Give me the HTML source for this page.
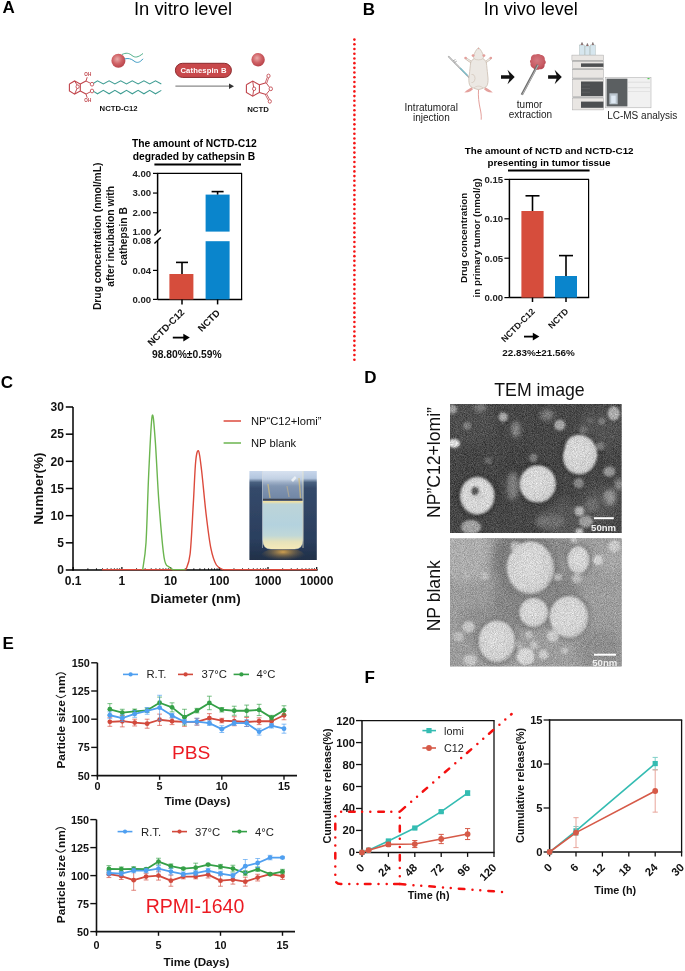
<!DOCTYPE html>
<html><head><meta charset="utf-8"><style>
html,body{margin:0;padding:0;background:#fff;}
svg{display:block;font-family:"Liberation Sans", sans-serif;will-change:transform;}
</style></head><body>
<svg width="685" height="971" viewBox="0 0 685 971">
<rect width="685" height="971" fill="#fff"/>
<defs>
<radialGradient id="sph" cx="0.42" cy="0.38" r="0.62">
<stop offset="0" stop-color="#e9aaa9"/><stop offset="0.55" stop-color="#d06266"/><stop offset="1" stop-color="#b8434a"/>
</radialGradient>
<radialGradient id="tum" cx="0.45" cy="0.4" r="0.6">
<stop offset="0" stop-color="#d47880"/><stop offset="0.7" stop-color="#c85c64"/><stop offset="1" stop-color="#b84852"/>
</radialGradient>
<marker id="ahg" viewBox="0 0 10 10" refX="9" refY="5" markerWidth="5" markerHeight="5" orient="auto"><path d="M0,1 L10,5 L0,9 z" fill="#555"/></marker>
</defs>
<text x="2.5" y="13.4" font-size="17" font-weight="bold" text-anchor="start" fill="#000">A</text>
<text x="183" y="15.3" font-size="18.4" font-weight="normal" text-anchor="middle" fill="#000">In vitro level</text>
<circle cx="118.4" cy="60.8" r="7" fill="url(#sph)"/>
<path d="M122,54.5 C126,52.5 129,53 132,55.5 C135,58 138,57.5 143,53.5" stroke="#4fae8a" stroke-width="1" fill="none"/>
<path d="M124.5,59 C128,58 131,58.5 134,61 C137,63.5 140,62.5 143,58.8" stroke="#3e9bc4" stroke-width="1" fill="none"/>
<path d="M69.4,84 L69.4,91 L74.6,94.1 L80.3,91 L80.3,84 L74.6,81 L69.4,84" stroke="#c0444b" stroke-width="1.1" fill="none"/>
<path d="M74.6,81 L77.2,85.2" stroke="#c0444b" stroke-width="0.95" fill="none"/>
<path d="M77.2,88.2 L74.6,94.1" stroke="#c0444b" stroke-width="0.95" fill="none"/>
<ellipse cx="77.6" cy="86.7" rx="1.6" ry="1.8" stroke="#c0444b" stroke-width="0.85" fill="none"/>
<path d="M80.3,84 L86,81" stroke="#c0444b" stroke-width="1.1" fill="none"/>
<path d="M80.3,91 L86,94.1" stroke="#c0444b" stroke-width="1.1" fill="none"/>
<path d="M86,81 L87.2,77.2" stroke="#c0444b" stroke-width="0.95" fill="none"/>
<path d="M86,94.1 L87.2,97.8" stroke="#c0444b" stroke-width="0.95" fill="none"/>
<path d="M86,81 L90.3,83.2" stroke="#c0444b" stroke-width="0.95" fill="none"/>
<path d="M86,94.1 L90.3,91.9" stroke="#c0444b" stroke-width="0.95" fill="none"/>
<text x="87.8" y="76.4" font-size="4.6" font-weight="bold" text-anchor="middle" fill="#c0444b">OH</text>
<text x="87.8" y="102.3" font-size="4.6" font-weight="bold" text-anchor="middle" fill="#c0444b">OH</text>
<ellipse cx="92" cy="84.2" rx="1.7" ry="1.9" stroke="#c0444b" stroke-width="0.85" fill="none"/>
<ellipse cx="92" cy="91" rx="1.7" ry="1.9" stroke="#c0444b" stroke-width="0.85" fill="none"/>
<path d="M93.6,83.2 L97.5,80.9 L103.3,84 L109.1,80.9 L114.9,84 L120.7,80.9 L126.5,84 L132.3,80.9 L138.1,84 L143.9,80.9 L149.7,84 L155.5,80.9 L161.3,84" stroke="#3f9d93" stroke-width="1.05" fill="none"/>
<path d="M93.6,91.4 L97.5,93.8 L103.3,90.4 L109.1,93.8 L114.9,90.4 L120.7,93.8 L126.5,90.4 L132.3,93.8 L138.1,90.4 L143.9,93.8 L149.7,90.4 L155.5,93.8 L161.3,90.4" stroke="#3f9d93" stroke-width="1.05" fill="none"/>
<text x="118.6" y="110.6" font-size="7.7" font-weight="bold" text-anchor="middle" fill="#111">NCTD-C12</text>
<rect x="175.4" y="63.3" width="56" height="14.1" rx="7.05" fill="#c8484b" stroke="#8a2a2d" stroke-width="1"/>
<text x="203.5" y="73.1" font-size="7.7" font-weight="bold" text-anchor="middle" fill="#fff" letter-spacing="0.12">Cathespin B</text>
<line x1="175.4" y1="86.2" x2="230" y2="86.2" stroke="#8a8a8a" stroke-width="1.3"/>
<path d="M229,83.4 L234,86.2 L229,89 z" fill="#333"/>
<circle cx="258.1" cy="59.7" r="6.7" fill="url(#sph)"/>
<path d="M246.4,84.8 L246.4,92.5 L252.7,96.2 L259.4,92.5 L259.4,84.8 L252.7,81.1 L246.4,84.8" stroke="#c0444b" stroke-width="1.1" fill="none"/>
<path d="M252.7,81.1 L253.6,87.2" stroke="#c0444b" stroke-width="0.95" fill="none"/>
<path d="M253.6,90.4 L252.7,96.2" stroke="#c0444b" stroke-width="0.95" fill="none"/>
<ellipse cx="254.1" cy="88.8" rx="1.6" ry="1.8" stroke="#c0444b" stroke-width="0.85" fill="none"/>
<path d="M259.4,84.8 L266.1,82.8" stroke="#c0444b" stroke-width="1.1" fill="none"/>
<path d="M259.4,92.5 L266.1,94.5" stroke="#c0444b" stroke-width="1.1" fill="none"/>
<path d="M266.1,82.8 L269.5,87.3" stroke="#c0444b" stroke-width="0.95" fill="none"/>
<path d="M266.1,94.5 L269.5,90.3" stroke="#c0444b" stroke-width="0.95" fill="none"/>
<ellipse cx="270.8" cy="88.8" rx="1.7" ry="1.9" stroke="#c0444b" stroke-width="0.85" fill="none"/>
<path d="M266.81,83.05 L268.58,77.94" stroke="#c0444b" stroke-width="0.8" fill="none"/><path d="M265.39,82.55 L267.17,77.45" stroke="#c0444b" stroke-width="0.8" fill="none"/>
<ellipse cx="268.5" cy="75.9" rx="1.6" ry="1.8" stroke="#c0444b" stroke-width="0.85" fill="none"/>
<path d="M265.44,94.85 L268.24,100.08" stroke="#c0444b" stroke-width="0.8" fill="none"/><path d="M266.76,94.15 L269.56,99.37" stroke="#c0444b" stroke-width="0.8" fill="none"/>
<ellipse cx="269.8" cy="101.4" rx="1.6" ry="1.8" stroke="#c0444b" stroke-width="0.85" fill="none"/>
<text x="258" y="111.6" font-size="7.8" font-weight="bold" text-anchor="middle" fill="#111">NCTD</text>
<text x="194.3" y="147" font-size="10.3" font-weight="bold" text-anchor="middle" fill="#000">The amount of NCTD-C12</text>
<text x="193.9" y="159.6" font-size="10.3" font-weight="bold" text-anchor="middle" fill="#000">degraded by cathepsin B</text>
<line x1="154.4" y1="164.4" x2="241" y2="164.4" stroke="#000" stroke-width="2"/>
<line x1="157.1" y1="173.4" x2="242.1" y2="173.4" stroke="#000" stroke-width="1.2"/>
<line x1="241.6" y1="173.4" x2="241.6" y2="299.4" stroke="#000" stroke-width="1.2"/>
<line x1="157.6" y1="299.4" x2="242.2" y2="299.4" stroke="#000" stroke-width="1.5"/>
<line x1="157.6" y1="173.4" x2="157.6" y2="232.4" stroke="#000" stroke-width="1.5"/>
<line x1="157.6" y1="240.6" x2="157.6" y2="299.4" stroke="#000" stroke-width="1.5"/>
<line x1="154.4" y1="235.4" x2="160.8" y2="229.5" stroke="#000" stroke-width="1.4"/>
<line x1="154.4" y1="243.5" x2="160.8" y2="237.6" stroke="#000" stroke-width="1.4"/>
<line x1="153" y1="173.39" x2="157.6" y2="173.39" stroke="#000" stroke-width="1.2"/>
<text x="151.2" y="176.79" font-size="9.6" font-weight="bold" text-anchor="end" fill="#222">4.00</text>
<line x1="153" y1="193.06" x2="157.6" y2="193.06" stroke="#000" stroke-width="1.2"/>
<text x="151.2" y="196.46" font-size="9.6" font-weight="bold" text-anchor="end" fill="#222">3.00</text>
<line x1="153" y1="212.73" x2="157.6" y2="212.73" stroke="#000" stroke-width="1.2"/>
<text x="151.2" y="216.13" font-size="9.6" font-weight="bold" text-anchor="end" fill="#222">2.00</text>
<text x="151.2" y="234.6" font-size="9.6" font-weight="bold" text-anchor="end" fill="#222">1.00</text>
<text x="151.2" y="244.2" font-size="9.6" font-weight="bold" text-anchor="end" fill="#222">0.08</text>
<line x1="153" y1="270.4" x2="157.6" y2="270.4" stroke="#000" stroke-width="1.2"/>
<text x="151.2" y="273.8" font-size="9.6" font-weight="bold" text-anchor="end" fill="#222">0.04</text>
<line x1="153" y1="299.4" x2="157.6" y2="299.4" stroke="#000" stroke-width="1.2"/>
<text x="151.2" y="302.8" font-size="9.6" font-weight="bold" text-anchor="end" fill="#222">0.00</text>
<rect x="169.4" y="274" width="24" height="25.4" fill="#d64d3c"/>
<line x1="182" y1="262.4" x2="182" y2="274" stroke="#000" stroke-width="1.6"/>
<line x1="176" y1="262.4" x2="188" y2="262.4" stroke="#000" stroke-width="1.6"/>
<rect x="205.6" y="194.6" width="24" height="37" fill="#0a85cc"/>
<rect x="205.6" y="241.2" width="24" height="58.2" fill="#0a85cc"/>
<line x1="217.6" y1="191.6" x2="217.6" y2="194.6" stroke="#000" stroke-width="1.6"/>
<line x1="211.6" y1="191.6" x2="223.6" y2="191.6" stroke="#000" stroke-width="1.6"/>
<line x1="182" y1="299.4" x2="182" y2="304.4" stroke="#000" stroke-width="1.5"/>
<line x1="217.6" y1="299.4" x2="217.6" y2="304.4" stroke="#000" stroke-width="1.5"/>
<text x="185" y="313" font-size="9.6" font-weight="bold" text-anchor="end" fill="#111" transform="rotate(-45 185 313)">NCTD-C12</text>
<text x="220.6" y="313.5" font-size="9.6" font-weight="bold" text-anchor="end" fill="#111" transform="rotate(-45 220.6 313.5)">NCTD</text>
<path d="M172.8,337.6 L184.3,337.6" stroke="#000" stroke-width="1.8" fill="none"/>
<path d="M183.3,333.8 L189.8,337.6 L183.3,341.4 z" fill="#000"/>
<text x="186.8" y="358" font-size="10.3" font-weight="bold" text-anchor="middle" fill="#111">98.80%±0.59%</text>
<text x="101.4" y="236.3" font-size="10.3" font-weight="bold" text-anchor="middle" fill="#111" transform="rotate(-90 101.4 236.3)">Drug concentration (nmol/mL)</text>
<text x="114.2" y="236.3" font-size="10.3" font-weight="bold" text-anchor="middle" fill="#111" transform="rotate(-90 114.2 236.3)">after incubation with</text>
<text x="127" y="236.3" font-size="10.3" font-weight="bold" text-anchor="middle" fill="#111" transform="rotate(-90 127 236.3)">cathepsin B</text>
<text x="362.8" y="15.4" font-size="17" font-weight="bold" text-anchor="start" fill="#000">B</text>
<text x="530.7" y="15" font-size="18" font-weight="normal" text-anchor="middle" fill="#000">In vivo level</text>
<circle cx="354.4" cy="39.6" r="1.3" fill="#f51414"/><circle cx="354.4" cy="44.31" r="1.3" fill="#f51414"/><circle cx="354.4" cy="49.01" r="1.3" fill="#f51414"/><circle cx="354.4" cy="53.72" r="1.3" fill="#f51414"/><circle cx="354.4" cy="58.43" r="1.3" fill="#f51414"/><circle cx="354.4" cy="63.14" r="1.3" fill="#f51414"/><circle cx="354.4" cy="67.84" r="1.3" fill="#f51414"/><circle cx="354.4" cy="72.55" r="1.3" fill="#f51414"/><circle cx="354.4" cy="77.26" r="1.3" fill="#f51414"/><circle cx="354.4" cy="81.97" r="1.3" fill="#f51414"/><circle cx="354.4" cy="86.67" r="1.3" fill="#f51414"/><circle cx="354.4" cy="91.38" r="1.3" fill="#f51414"/><circle cx="354.4" cy="96.09" r="1.3" fill="#f51414"/><circle cx="354.4" cy="100.8" r="1.3" fill="#f51414"/><circle cx="354.4" cy="105.5" r="1.3" fill="#f51414"/><circle cx="354.4" cy="110.21" r="1.3" fill="#f51414"/><circle cx="354.4" cy="114.92" r="1.3" fill="#f51414"/><circle cx="354.4" cy="119.62" r="1.3" fill="#f51414"/><circle cx="354.4" cy="124.33" r="1.3" fill="#f51414"/><circle cx="354.4" cy="129.04" r="1.3" fill="#f51414"/><circle cx="354.4" cy="133.75" r="1.3" fill="#f51414"/><circle cx="354.4" cy="138.45" r="1.3" fill="#f51414"/><circle cx="354.4" cy="143.16" r="1.3" fill="#f51414"/><circle cx="354.4" cy="147.87" r="1.3" fill="#f51414"/><circle cx="354.4" cy="152.58" r="1.3" fill="#f51414"/><circle cx="354.4" cy="157.28" r="1.3" fill="#f51414"/><circle cx="354.4" cy="161.99" r="1.3" fill="#f51414"/><circle cx="354.4" cy="166.7" r="1.3" fill="#f51414"/><circle cx="354.4" cy="171.41" r="1.3" fill="#f51414"/><circle cx="354.4" cy="176.11" r="1.3" fill="#f51414"/><circle cx="354.4" cy="180.82" r="1.3" fill="#f51414"/><circle cx="354.4" cy="185.53" r="1.3" fill="#f51414"/><circle cx="354.4" cy="190.24" r="1.3" fill="#f51414"/><circle cx="354.4" cy="194.94" r="1.3" fill="#f51414"/><circle cx="354.4" cy="199.65" r="1.3" fill="#f51414"/><circle cx="354.4" cy="204.36" r="1.3" fill="#f51414"/><circle cx="354.4" cy="209.06" r="1.3" fill="#f51414"/><circle cx="354.4" cy="213.77" r="1.3" fill="#f51414"/><circle cx="354.4" cy="218.48" r="1.3" fill="#f51414"/><circle cx="354.4" cy="223.19" r="1.3" fill="#f51414"/><circle cx="354.4" cy="227.89" r="1.3" fill="#f51414"/><circle cx="354.4" cy="232.6" r="1.3" fill="#f51414"/><circle cx="354.4" cy="237.31" r="1.3" fill="#f51414"/><circle cx="354.4" cy="242.02" r="1.3" fill="#f51414"/><circle cx="354.4" cy="246.72" r="1.3" fill="#f51414"/><circle cx="354.4" cy="251.43" r="1.3" fill="#f51414"/><circle cx="354.4" cy="256.14" r="1.3" fill="#f51414"/><circle cx="354.4" cy="260.85" r="1.3" fill="#f51414"/><circle cx="354.4" cy="265.55" r="1.3" fill="#f51414"/><circle cx="354.4" cy="270.26" r="1.3" fill="#f51414"/><circle cx="354.4" cy="274.97" r="1.3" fill="#f51414"/><circle cx="354.4" cy="279.68" r="1.3" fill="#f51414"/><circle cx="354.4" cy="284.38" r="1.3" fill="#f51414"/><circle cx="354.4" cy="289.09" r="1.3" fill="#f51414"/><circle cx="354.4" cy="293.8" r="1.3" fill="#f51414"/><circle cx="354.4" cy="298.5" r="1.3" fill="#f51414"/><circle cx="354.4" cy="303.21" r="1.3" fill="#f51414"/><circle cx="354.4" cy="307.92" r="1.3" fill="#f51414"/><circle cx="354.4" cy="312.63" r="1.3" fill="#f51414"/><circle cx="354.4" cy="317.33" r="1.3" fill="#f51414"/><circle cx="354.4" cy="322.04" r="1.3" fill="#f51414"/><circle cx="354.4" cy="326.75" r="1.3" fill="#f51414"/><circle cx="354.4" cy="331.46" r="1.3" fill="#f51414"/><circle cx="354.4" cy="336.16" r="1.3" fill="#f51414"/><circle cx="354.4" cy="340.87" r="1.3" fill="#f51414"/><circle cx="354.4" cy="345.58" r="1.3" fill="#f51414"/><circle cx="354.4" cy="350.29" r="1.3" fill="#f51414"/><circle cx="354.4" cy="354.99" r="1.3" fill="#f51414"/><circle cx="354.4" cy="359.7" r="1.3" fill="#f51414"/>
<line x1="448.3" y1="56.2" x2="470.2" y2="78.5" stroke="#9a9a9a" stroke-width="1.5"/>
<line x1="448.6" y1="56.5" x2="469.8" y2="78.1" stroke="#e2e2e2" stroke-width="0.6"/>
<line x1="460.1" y1="68" x2="467.6" y2="75.6" stroke="#79bfcc" stroke-width="1.3"/>
<line x1="453" y1="61" x2="455.5" y2="59.5" stroke="#999" stroke-width="0.8"/>
<line x1="454.3" y1="62.6" x2="456.8" y2="61.1" stroke="#999" stroke-width="0.8"/>
<path d="M478.5,89.5 C478,97 479,103 480,108 C481,112 481.5,116 481.2,119.7" stroke="#e4a09c" stroke-width="1" fill="none"/>
<path d="M471.5,87.2 L466.5,90.6 L464.3,92.6 L468,92.2 L470.5,91.2 L473,89.2 z" fill="#e4a09c"/>
<path d="M485.5,87.2 L490.5,90.6 L492.8,92.6 L489,92.2 L486.5,91.2 L484,89.2 z" fill="#e4a09c"/>
<path d="M471.8,62.5 L466.5,58.8" stroke="#c4b4a6" stroke-width="2.2" stroke-linecap="round"/><path d="M471.8,62.5 L466.5,58.8" stroke="#ece8e3" stroke-width="1.2" stroke-linecap="round"/>
<path d="M485.2,62.5 L490,58.8" stroke="#c4b4a6" stroke-width="2.2" stroke-linecap="round"/><path d="M485.2,62.5 L490,58.8" stroke="#ece8e3" stroke-width="1.2" stroke-linecap="round"/>
<circle cx="465.6" cy="58" r="1.35" fill="#e4a09c"/><circle cx="490.8" cy="58" r="1.35" fill="#e4a09c"/>
<path d="M478.5,47.7 C480,48.8 481.2,50.5 482.6,53.5 C483.6,55.5 483.8,57.2 482.9,58.8 C484.5,59.6 486,60.6 486.4,63 C486.8,66 487.2,70 487.7,75 C488.3,79 488.2,82 487.5,84.2 C487,86.5 485.5,87.6 483.5,88 C481.8,88.6 480,89.5 478.5,89.6 C477,89.5 475.2,88.6 473.5,88 C471.5,87.6 470,86.5 469.4,84.2 C468.7,82 468.6,79 469.3,75 C469.8,70 470.2,66 470.6,63 C471,60.6 472.5,59.6 474.1,58.8 C473.2,57.2 473.4,55.5 474.4,53.5 C475.8,50.5 477,48.8 478.5,47.7 z" fill="#ece8e3" stroke="#c4b4a6" stroke-width="0.7"/>
<circle cx="473.1" cy="55.6" r="1.45" fill="#e4a09c"/><circle cx="483.9" cy="55.6" r="1.45" fill="#e4a09c"/>
<circle cx="478.5" cy="48.6" r="0.6" fill="#e4a09c"/>
<path d="M474.3,58.9 C476.5,60.2 480.5,60.2 482.7,58.9" stroke="#c4b4a6" stroke-width="0.5" fill="none"/>
<path d="M471.5,74.5 C473.5,74 475,75.5 475,78.5 C474.8,81.5 473,83 471.5,82.5" stroke="#c4b4a6" stroke-width="0.5" fill="none"/>
<path d="M474,88 C476,85.5 481,85.5 483,88" stroke="#c4b4a6" stroke-width="0.4" fill="none"/>
<text x="431.2" y="111" font-size="10" font-weight="normal" text-anchor="middle" fill="#222">Intratumoral</text>
<text x="431.4" y="120.8" font-size="10" font-weight="normal" text-anchor="middle" fill="#222">injection</text>
<path d="M501,75.35 L509.5,75.35 L507.5,69.8 L514.7,77 L507.5,84.2 L509.5,78.65 L501,78.65 z" fill="#111"/>
<path d="M548.1,75.35 L556.6,75.35 L554.6,69.8 L561.8,77 L554.6,84.2 L556.6,78.65 L548.1,78.65 z" fill="#111"/>
<path d="M531,59.5 C530.5,56 533,54.3 535.5,54.6 C537,53.8 539.5,53.8 541,55 C543.5,55 545.2,57.5 544.8,60 C546.3,61.5 546,63.5 544.6,64.5 C545,67.5 542.5,69.8 539.5,69.3 C537.5,70.3 534.5,69.8 533.3,68.2 C531,67.5 530,65 530.6,63 C529.6,62 529.8,60.5 531,59.5 z" fill="url(#tum)"/>
<line x1="537.8" y1="64.8" x2="521.8" y2="94.8" stroke="#6e6e6e" stroke-width="2.4"/>
<line x1="538.2" y1="65" x2="522.4" y2="94.6" stroke="#c8c8c8" stroke-width="0.8"/>
<text x="529.6" y="108" font-size="10" font-weight="normal" text-anchor="middle" fill="#222">tumor</text>
<text x="530.5" y="118" font-size="10" font-weight="normal" text-anchor="middle" fill="#222">extraction</text>
<rect x="579.6" y="45" width="4.8" height="10.2" fill="#d6e6ee" stroke="#9aa" stroke-width="0.4"/>
<rect x="585" y="46" width="4.8" height="9.2" fill="#d6e6ee" stroke="#9aa" stroke-width="0.4"/>
<rect x="590.4" y="45" width="4.8" height="10.2" fill="#d6e6ee" stroke="#9aa" stroke-width="0.4"/>
<path d="M581,45 L582,42.5 L583,45 M586.5,46 L587.4,43.5 L588.3,46 M592,45 L592.8,42.5 L593.7,45" stroke="#777" stroke-width="0.8" fill="#b55"/>
<rect x="571.9" y="55.1" width="31.7" height="5.6" fill="#e9e6e3" stroke="#a9a9a9" stroke-width="0.5"/>
<rect x="572.6" y="61.4" width="31" height="6.9" fill="#e9e6e3" stroke="#a9a9a9" stroke-width="0.5"/>
<rect x="581" y="63.4" width="22.4" height="3.5" fill="#4d4f51"/>
<rect x="572.6" y="69.7" width="31" height="8.3" fill="#e9e6e3" stroke="#a9a9a9" stroke-width="0.5"/>
<rect x="572.6" y="79.4" width="31" height="17.3" fill="#e9e6e3" stroke="#a9a9a9" stroke-width="0.5"/>
<rect x="581" y="81.5" width="22" height="14.5" fill="#4d4f51"/>
<line x1="581.5" y1="85" x2="590" y2="85" stroke="#777" stroke-width="0.4"/>
<line x1="581.5" y1="88.6" x2="590" y2="88.6" stroke="#777" stroke-width="0.4"/>
<line x1="581.5" y1="92.2" x2="590" y2="92.2" stroke="#777" stroke-width="0.4"/>
<rect x="572.6" y="98.1" width="31" height="11.8" fill="#e9e6e3" stroke="#a9a9a9" stroke-width="0.5"/>
<rect x="581" y="101.6" width="22.4" height="6.2" fill="#4d4f51"/>
<line x1="572.5" y1="60.9" x2="603.5" y2="60.9" stroke="#888" stroke-width="0.6"/>
<line x1="572.5" y1="69.1" x2="603.5" y2="69.1" stroke="#888" stroke-width="0.6"/>
<line x1="572.5" y1="78.7" x2="603.5" y2="78.7" stroke="#888" stroke-width="0.6"/>
<line x1="572.5" y1="97.4" x2="603.5" y2="97.4" stroke="#888" stroke-width="0.6"/>
<rect x="605.2" y="77.3" width="45.8" height="30.5" fill="#f1f1f1" stroke="#a9a9a9" stroke-width="0.5"/>
<rect x="606.6" y="78.7" width="20.8" height="27.7" fill="#5b5f61"/>
<rect x="609.4" y="93.3" width="8.3" height="11" fill="#b9c4cc"/>
<rect x="611.2" y="95.6" width="4.5" height="7.5" fill="#dfe9f3"/>
<line x1="628" y1="82.2" x2="650" y2="82.2" stroke="#c8c8c8" stroke-width="0.5"/>
<line x1="628" y1="87.7" x2="650" y2="87.7" stroke="#c8c8c8" stroke-width="0.5"/>
<line x1="628" y1="91.5" x2="650" y2="91.5" stroke="#d0d0d0" stroke-width="0.4"/>
<rect x="647.5" y="78" width="2" height="1.2" fill="#5c5"/>
<text x="642.2" y="118.8" font-size="10" font-weight="normal" text-anchor="middle" fill="#222">LC-MS analysis</text>
<text x="549.2" y="154" font-size="9.8" font-weight="bold" text-anchor="middle" fill="#000">The amount of NCTD and NCTD-C12</text>
<text x="549" y="166" font-size="9.8" font-weight="bold" text-anchor="middle" fill="#000">presenting in tumor tissue</text>
<line x1="508" y1="170.4" x2="589.6" y2="170.4" stroke="#000" stroke-width="2"/>
<line x1="508.9" y1="179.4" x2="589.1" y2="179.4" stroke="#000" stroke-width="1.2"/>
<line x1="588.6" y1="179.4" x2="588.6" y2="297.6" stroke="#000" stroke-width="1.2"/>
<line x1="509.4" y1="297.6" x2="589.2" y2="297.6" stroke="#000" stroke-width="1.5"/>
<line x1="509.4" y1="179.4" x2="509.4" y2="297.6" stroke="#000" stroke-width="1.5"/>
<line x1="504.4" y1="179.4" x2="509.4" y2="179.4" stroke="#000" stroke-width="1.2"/>
<text x="503.2" y="182.8" font-size="9.6" font-weight="bold" text-anchor="end" fill="#222">0.15</text>
<line x1="504.4" y1="218.8" x2="509.4" y2="218.8" stroke="#000" stroke-width="1.2"/>
<text x="503.2" y="222.2" font-size="9.6" font-weight="bold" text-anchor="end" fill="#222">0.10</text>
<line x1="504.4" y1="258.2" x2="509.4" y2="258.2" stroke="#000" stroke-width="1.2"/>
<text x="503.2" y="261.6" font-size="9.6" font-weight="bold" text-anchor="end" fill="#222">0.05</text>
<line x1="504.4" y1="297.6" x2="509.4" y2="297.6" stroke="#000" stroke-width="1.2"/>
<text x="503.2" y="301" font-size="9.6" font-weight="bold" text-anchor="end" fill="#222">0.00</text>
<rect x="521.4" y="211" width="22.2" height="86.6" fill="#d64d3c"/>
<line x1="532.5" y1="195.8" x2="532.5" y2="211" stroke="#000" stroke-width="1.6"/>
<line x1="525.5" y1="195.8" x2="539.5" y2="195.8" stroke="#000" stroke-width="1.6"/>
<rect x="555" y="276" width="22" height="21.6" fill="#0a85cc"/>
<line x1="566" y1="255.6" x2="566" y2="276" stroke="#000" stroke-width="1.6"/>
<line x1="559" y1="255.6" x2="573" y2="255.6" stroke="#000" stroke-width="1.6"/>
<line x1="532.5" y1="297.6" x2="532.5" y2="302" stroke="#000" stroke-width="1.5"/>
<line x1="566" y1="297.6" x2="566" y2="302" stroke="#000" stroke-width="1.5"/>
<text x="535.5" y="312" font-size="8.8" font-weight="bold" text-anchor="end" fill="#111" transform="rotate(-45 535.5 312)">NCTD-C12</text>
<text x="569" y="312" font-size="8.8" font-weight="bold" text-anchor="end" fill="#111" transform="rotate(-45 569 312)">NCTD</text>
<path d="M524,336.6 L533.5,336.6" stroke="#000" stroke-width="1.8" fill="none"/>
<path d="M532.8,332.8 L539.4,336.6 L532.8,340.4 z" fill="#000"/>
<text x="538.5" y="356" font-size="9.9" font-weight="bold" text-anchor="middle" fill="#111">22.83%±21.56%</text>
<text x="467.3" y="237.9" font-size="9.8" font-weight="bold" text-anchor="middle" fill="#111" transform="rotate(-90 467.3 237.9)">Drug concentration</text>
<text x="479.8" y="237.9" font-size="9.8" font-weight="bold" text-anchor="middle" fill="#111" transform="rotate(-90 479.8 237.9)">in primary tumor (nmol/g)</text>
<text x="0.8" y="388" font-size="17" font-weight="bold" text-anchor="start" fill="#000">C</text>
<line x1="73" y1="407" x2="73" y2="570.75" stroke="#000" stroke-width="1.5"/>
<line x1="65.8" y1="570" x2="73" y2="570" stroke="#000" stroke-width="1.5"/>
<text x="63.9" y="574.3" font-size="12" font-weight="bold" text-anchor="end" fill="#111">0</text>
<line x1="65.8" y1="542.83" x2="73" y2="542.83" stroke="#000" stroke-width="1.5"/>
<text x="63.9" y="547.13" font-size="12" font-weight="bold" text-anchor="end" fill="#111">5</text>
<line x1="65.8" y1="515.67" x2="73" y2="515.67" stroke="#000" stroke-width="1.5"/>
<text x="63.9" y="519.97" font-size="12" font-weight="bold" text-anchor="end" fill="#111">10</text>
<line x1="65.8" y1="488.5" x2="73" y2="488.5" stroke="#000" stroke-width="1.5"/>
<text x="63.9" y="492.8" font-size="12" font-weight="bold" text-anchor="end" fill="#111">15</text>
<line x1="65.8" y1="461.33" x2="73" y2="461.33" stroke="#000" stroke-width="1.5"/>
<text x="63.9" y="465.63" font-size="12" font-weight="bold" text-anchor="end" fill="#111">20</text>
<line x1="65.8" y1="434.17" x2="73" y2="434.17" stroke="#000" stroke-width="1.5"/>
<text x="63.9" y="438.47" font-size="12" font-weight="bold" text-anchor="end" fill="#111">25</text>
<line x1="65.8" y1="407" x2="73" y2="407" stroke="#000" stroke-width="1.5"/>
<text x="63.9" y="411.3" font-size="12" font-weight="bold" text-anchor="end" fill="#111">30</text>
<line x1="73" y1="570" x2="317.6" y2="570" stroke="#000" stroke-width="1.5"/>
<line x1="73.2" y1="570" x2="73.2" y2="567" stroke="#000" stroke-width="1.2"/>
<text x="73.2" y="584.6" font-size="12" font-weight="bold" text-anchor="middle" fill="#111">0.1</text>
<line x1="121.9" y1="570" x2="121.9" y2="567" stroke="#000" stroke-width="1.2"/>
<text x="121.9" y="584.6" font-size="12" font-weight="bold" text-anchor="middle" fill="#111">1</text>
<line x1="170.6" y1="570" x2="170.6" y2="567" stroke="#000" stroke-width="1.2"/>
<text x="170.6" y="584.6" font-size="12" font-weight="bold" text-anchor="middle" fill="#111">10</text>
<line x1="219.3" y1="570" x2="219.3" y2="567" stroke="#000" stroke-width="1.2"/>
<text x="219.3" y="584.6" font-size="12" font-weight="bold" text-anchor="middle" fill="#111">100</text>
<line x1="268" y1="570" x2="268" y2="567" stroke="#000" stroke-width="1.2"/>
<text x="268" y="584.6" font-size="12" font-weight="bold" text-anchor="middle" fill="#111">1000</text>
<line x1="316.7" y1="570" x2="316.7" y2="567" stroke="#000" stroke-width="1.2"/>
<text x="316.7" y="584.6" font-size="12" font-weight="bold" text-anchor="middle" fill="#111">10000</text>
<line x1="87.86" y1="570" x2="87.86" y2="568.2" stroke="#000" stroke-width="0.8"/>
<line x1="96.44" y1="570" x2="96.44" y2="568.2" stroke="#000" stroke-width="0.8"/>
<line x1="102.52" y1="570" x2="102.52" y2="568.2" stroke="#000" stroke-width="0.8"/>
<line x1="107.24" y1="570" x2="107.24" y2="568.2" stroke="#000" stroke-width="0.8"/>
<line x1="111.1" y1="570" x2="111.1" y2="568.2" stroke="#000" stroke-width="0.8"/>
<line x1="114.36" y1="570" x2="114.36" y2="568.2" stroke="#000" stroke-width="0.8"/>
<line x1="117.18" y1="570" x2="117.18" y2="568.2" stroke="#000" stroke-width="0.8"/>
<line x1="119.67" y1="570" x2="119.67" y2="568.2" stroke="#000" stroke-width="0.8"/>
<line x1="136.56" y1="570" x2="136.56" y2="568.2" stroke="#000" stroke-width="0.8"/>
<line x1="145.14" y1="570" x2="145.14" y2="568.2" stroke="#000" stroke-width="0.8"/>
<line x1="151.22" y1="570" x2="151.22" y2="568.2" stroke="#000" stroke-width="0.8"/>
<line x1="155.94" y1="570" x2="155.94" y2="568.2" stroke="#000" stroke-width="0.8"/>
<line x1="159.8" y1="570" x2="159.8" y2="568.2" stroke="#000" stroke-width="0.8"/>
<line x1="163.06" y1="570" x2="163.06" y2="568.2" stroke="#000" stroke-width="0.8"/>
<line x1="165.88" y1="570" x2="165.88" y2="568.2" stroke="#000" stroke-width="0.8"/>
<line x1="168.37" y1="570" x2="168.37" y2="568.2" stroke="#000" stroke-width="0.8"/>
<line x1="185.26" y1="570" x2="185.26" y2="568.2" stroke="#000" stroke-width="0.8"/>
<line x1="193.84" y1="570" x2="193.84" y2="568.2" stroke="#000" stroke-width="0.8"/>
<line x1="199.92" y1="570" x2="199.92" y2="568.2" stroke="#000" stroke-width="0.8"/>
<line x1="204.64" y1="570" x2="204.64" y2="568.2" stroke="#000" stroke-width="0.8"/>
<line x1="208.5" y1="570" x2="208.5" y2="568.2" stroke="#000" stroke-width="0.8"/>
<line x1="211.76" y1="570" x2="211.76" y2="568.2" stroke="#000" stroke-width="0.8"/>
<line x1="214.58" y1="570" x2="214.58" y2="568.2" stroke="#000" stroke-width="0.8"/>
<line x1="217.07" y1="570" x2="217.07" y2="568.2" stroke="#000" stroke-width="0.8"/>
<line x1="233.96" y1="570" x2="233.96" y2="568.2" stroke="#000" stroke-width="0.8"/>
<line x1="242.54" y1="570" x2="242.54" y2="568.2" stroke="#000" stroke-width="0.8"/>
<line x1="248.62" y1="570" x2="248.62" y2="568.2" stroke="#000" stroke-width="0.8"/>
<line x1="253.34" y1="570" x2="253.34" y2="568.2" stroke="#000" stroke-width="0.8"/>
<line x1="257.2" y1="570" x2="257.2" y2="568.2" stroke="#000" stroke-width="0.8"/>
<line x1="260.46" y1="570" x2="260.46" y2="568.2" stroke="#000" stroke-width="0.8"/>
<line x1="263.28" y1="570" x2="263.28" y2="568.2" stroke="#000" stroke-width="0.8"/>
<line x1="265.77" y1="570" x2="265.77" y2="568.2" stroke="#000" stroke-width="0.8"/>
<line x1="282.66" y1="570" x2="282.66" y2="568.2" stroke="#000" stroke-width="0.8"/>
<line x1="291.24" y1="570" x2="291.24" y2="568.2" stroke="#000" stroke-width="0.8"/>
<line x1="297.32" y1="570" x2="297.32" y2="568.2" stroke="#000" stroke-width="0.8"/>
<line x1="302.04" y1="570" x2="302.04" y2="568.2" stroke="#000" stroke-width="0.8"/>
<line x1="305.9" y1="570" x2="305.9" y2="568.2" stroke="#000" stroke-width="0.8"/>
<line x1="309.16" y1="570" x2="309.16" y2="568.2" stroke="#000" stroke-width="0.8"/>
<line x1="311.98" y1="570" x2="311.98" y2="568.2" stroke="#000" stroke-width="0.8"/>
<line x1="314.47" y1="570" x2="314.47" y2="568.2" stroke="#000" stroke-width="0.8"/>
<text x="195.6" y="603" font-size="13.4" font-weight="bold" text-anchor="middle" fill="#111">Diameter (nm)</text>
<text x="43" y="488.6" font-size="13.6" font-weight="bold" text-anchor="middle" fill="#111" transform="rotate(-90 43 488.6)">Number(%)</text>
<path d="M102,569.6 L185.8,569.6" stroke="#dc4a3c" stroke-width="1.2" fill="none"/>
<path d="M142.6,570 C143.17,565.47 144.98,558.8 146,542.8 C147.02,526.8 147.68,495.08 148.7,474 C149.72,452.92 151.02,421.98 152.1,416.3 C153.18,410.62 154.07,425.62 155.2,439.9 C156.33,454.18 157.42,482.38 158.9,502 C160.38,521.62 162.4,546.77 164.1,557.6 C165.8,568.43 167.48,564.93 169.1,567 C170.72,569.07 173.02,569.5 173.8,570" stroke="#6bb54f" stroke-width="1.4" fill="none"/>
<path d="M173.8,569.6 L185.8,569.6" stroke="#6bb54f" stroke-width="1.2" fill="none"/>
<path d="M185.8,570 C186.52,567.33 188.85,565.02 190.1,554 C191.35,542.98 192.37,519.37 193.3,503.9 C194.23,488.43 194.82,470.02 195.7,461.2 C196.58,452.38 197.62,449.45 198.6,451 C199.58,452.55 200.33,459.83 201.6,470.5 C202.87,481.17 204.65,502.02 206.2,515 C207.75,527.98 209.2,540.07 210.9,548.4 C212.6,556.73 214.23,561.4 216.4,565 C218.57,568.6 222.65,569.17 223.9,570" stroke="#dc4a3c" stroke-width="1.4" fill="none"/>
<path d="M223.9,569.6 L317,569.6" stroke="#dc4a3c" stroke-width="1.3" fill="none"/>
<line x1="223.6" y1="421" x2="241" y2="421" stroke="#dc4a3c" stroke-width="1.5"/>
<line x1="223.6" y1="443" x2="241" y2="443" stroke="#6bb54f" stroke-width="1.5"/>
<text x="251" y="425.4" font-size="11.2" font-weight="normal" text-anchor="start" fill="#111">NP“C12+lomi”</text>
<text x="251" y="447.4" font-size="11.2" font-weight="normal" text-anchor="start" fill="#111">NP blank</text>
<defs>
<linearGradient id="vbg" x1="0" y1="0" x2="0" y2="1">
<stop offset="0" stop-color="#cad8ec"/><stop offset="0.09" stop-color="#b3c6df"/><stop offset="0.135" stop-color="#49607f"/><stop offset="0.2" stop-color="#34496a"/><stop offset="0.75" stop-color="#2b3f5e"/><stop offset="1" stop-color="#1f2e46"/>
</linearGradient>
<linearGradient id="liq" x1="0" y1="0" x2="0" y2="1">
<stop offset="0" stop-color="#f2e3a6"/><stop offset="0.07" stop-color="#bcd4d8"/><stop offset="0.5" stop-color="#b4d2de"/><stop offset="0.72" stop-color="#c0d8d8"/><stop offset="0.85" stop-color="#e6e2ba"/><stop offset="1" stop-color="#f6eab8"/>
</linearGradient>
<radialGradient id="glow" cx="0.5" cy="0.25" r="0.55"><stop offset="0" stop-color="#d0a050" stop-opacity="1"/><stop offset="1" stop-color="#6a5a40" stop-opacity="0"/></radialGradient>
<linearGradient id="glass" x1="0" y1="0" x2="0" y2="1">
<stop offset="0" stop-color="#dde6f2"/><stop offset="0.12" stop-color="#c4d2e4"/><stop offset="0.2" stop-color="#8ea2be"/><stop offset="0.38" stop-color="#7a90ae"/><stop offset="1" stop-color="#6a80a0"/>
</linearGradient>
<filter id="vb" x="-10%" y="-10%" width="120%" height="120%"><feGaussianBlur stdDeviation="0.6"/></filter>
<clipPath id="vc"><rect x="249.4" y="471" width="67.4" height="89"/></clipPath>
</defs>
<g clip-path="url(#vc)"><g filter="url(#vb)">
<rect x="248" y="470" width="70" height="92" fill="url(#vbg)"/>
<ellipse cx="283" cy="556" rx="22" ry="8" fill="url(#glow)"/>
<path d="M262.3,470 L262.3,540 Q262.3,549.5 271,549.5 L294.5,549.5 Q303.3,549.5 303.3,540 L303.3,470 z" fill="url(#glass)" opacity="0.85"/>
<path d="M262.8,501 L302.8,501 L302.8,540 Q302.8,549 294.5,549 L271,549 Q262.8,549 262.8,540 z" fill="url(#liq)"/>
<line x1="263" y1="499.6" x2="302.6" y2="499.6" stroke="#3c3f48" stroke-width="1.6"/>
<line x1="263" y1="501.6" x2="302.6" y2="501.6" stroke="#efe0a2" stroke-width="1.3"/>
<line x1="268" y1="484" x2="270" y2="498" stroke="#d8c07a" stroke-width="1.4" opacity="0.7"/>
<line x1="299" y1="478" x2="300.5" y2="498" stroke="#d8c07a" stroke-width="1.4" opacity="0.7"/>
<line x1="287" y1="486" x2="289" y2="497" stroke="#c9b58a" stroke-width="1.2" opacity="0.6"/>
<line x1="262.6" y1="471" x2="262.6" y2="548" stroke="#d9dde0" stroke-width="0.8" opacity="0.7"/>
<line x1="303" y1="471" x2="303" y2="548" stroke="#e8e4c8" stroke-width="0.9" opacity="0.8"/>
<path d="M291,480 L295,476 L296.5,478 L293,482 z" fill="#f4f6f8" opacity="0.8"/>
</g></g>
<text x="364.3" y="383.3" font-size="17" font-weight="bold" text-anchor="start" fill="#000">D</text>
<text x="539.5" y="395.7" font-size="17.7" font-weight="normal" text-anchor="middle" fill="#111">TEM image</text>
<text x="439.7" y="462.5" font-size="17.6" font-weight="normal" text-anchor="middle" fill="#111" transform="rotate(-90 439.7 462.5)">NP”C12+lomi”</text>
<text x="439.7" y="595.8" font-size="17.6" font-weight="normal" text-anchor="middle" fill="#111" transform="rotate(-90 439.7 595.8)">NP blank</text>
<defs>
<filter id="gr1" x="0" y="0" width="100%" height="100%" color-interpolation-filters="sRGB">
<feTurbulence type="fractalNoise" baseFrequency="1.1" numOctaves="2" seed="4" result="n"/>
<feColorMatrix in="n" type="matrix" values="1 0 0 0 0  1 0 0 0 0  1 0 0 0 0  0 0 0 0 1" result="g"/>
<feComposite in="SourceGraphic" in2="g" operator="arithmetic" k1="0" k2="1" k3="0.36" k4="-0.18"/>
</filter>
<filter id="bl1" x="-50%" y="-50%" width="200%" height="200%"><feGaussianBlur stdDeviation="0.8"/></filter>
<filter id="bl2" x="-50%" y="-50%" width="200%" height="200%"><feGaussianBlur stdDeviation="2"/></filter>
<filter id="bl4" x="-50%" y="-50%" width="200%" height="200%"><feGaussianBlur stdDeviation="5"/></filter>
<radialGradient id="bg1" cx="0.45" cy="0.45" r="0.55"><stop offset="0" stop-color="#d9d9d9"/><stop offset="0.8" stop-color="#d0d0d0"/><stop offset="1" stop-color="#bdbdbd"/></radialGradient>
<radialGradient id="bg2" cx="0.5" cy="0.5" r="0.5"><stop offset="0" stop-color="#c8c8c8"/><stop offset="0.55" stop-color="#d8d8d8"/><stop offset="0.85" stop-color="#d2d2d2"/><stop offset="1" stop-color="#b8b8b8"/></radialGradient>
<clipPath id="c1"><rect x="450" y="404" width="171.7" height="129.1"/></clipPath>
<clipPath id="c2"><rect x="450" y="538.3" width="171.7" height="128.3"/></clipPath>
</defs>
<g clip-path="url(#c1)"><g filter="url(#gr1)"><rect x="450" y="404" width="171.7" height="129.1" fill="#474747"/><g filter="url(#bl4)"><circle cx="470" cy="420" r="25" fill="#505050"/><circle cx="600" cy="430" r="22" fill="#535353"/><circle cx="565" cy="522" r="22" fill="#575757"/><circle cx="600" cy="505" r="18" fill="#565656"/><circle cx="520" cy="470" r="20" fill="#434343"/><circle cx="470" cy="470" r="20" fill="#444"/></g><g filter="url(#bl2)"><circle cx="477.3" cy="495.7" r="22" fill="#3a3a3a"/><circle cx="537.8" cy="484" r="22" fill="#3a3a3a"/><circle cx="580" cy="454.7" r="21" fill="#3a3a3a"/><ellipse cx="512.7" cy="486" rx="6" ry="14" fill="#7c7c7c"/><ellipse cx="515.7" cy="429.6" rx="4.5" ry="8" fill="#858585"/><ellipse cx="550.2" cy="521.4" rx="15" ry="7" fill="#6e6e6e"/><ellipse cx="592.2" cy="504.8" rx="7" ry="7" fill="#6e6e6e"/><ellipse cx="547" cy="415" rx="7" ry="5.5" fill="#7a7a7a"/><ellipse cx="480.2" cy="408" rx="6.5" ry="4" fill="#7e7e7e"/><ellipse cx="610" cy="497.2" rx="6" ry="8" fill="#949494"/><ellipse cx="618.9" cy="484.5" rx="4" ry="6" fill="#8e8e8e"/></g><g filter="url(#bl1)"><ellipse cx="452.6" cy="409.3" rx="4.6" ry="4.6" fill="#9c9c9c"/><ellipse cx="454" cy="443.4" rx="6" ry="4.5" fill="#dedede"/><ellipse cx="503.2" cy="417.1" rx="4.6" ry="4.6" fill="#a6a6a6"/><ellipse cx="467.1" cy="425.7" rx="4" ry="4" fill="#7e7e7e"/><ellipse cx="488.1" cy="460.5" rx="3.5" ry="3.5" fill="#6a6a6a"/><ellipse cx="533.4" cy="457.9" rx="4" ry="4" fill="#7a7a7a"/><ellipse cx="559.8" cy="425" rx="5.5" ry="5.5" fill="#a4a4a4"/><ellipse cx="583.3" cy="430" rx="4" ry="4" fill="#6e6e6e"/><ellipse cx="589.6" cy="420.5" rx="3" ry="3" fill="#686868"/><ellipse cx="601.7" cy="421.2" rx="3.5" ry="3.5" fill="#7a7a7a"/><ellipse cx="613.8" cy="413.5" rx="6" ry="7" fill="#adadad"/><ellipse cx="600.4" cy="446" rx="4" ry="4" fill="#7a7a7a"/><ellipse cx="578.8" cy="483.2" rx="5" ry="5" fill="#888"/><ellipse cx="609.3" cy="471.8" rx="6" ry="5" fill="#969696"/><ellipse cx="579.5" cy="511.2" rx="5" ry="5" fill="#b0b0b0"/><ellipse cx="585.8" cy="521.4" rx="7" ry="6" fill="#9c9c9c"/><ellipse cx="579.5" cy="531.5" rx="4" ry="3" fill="#c0c0c0"/><ellipse cx="471" cy="527" rx="10" ry="7" fill="#a0a0a0"/><ellipse cx="477.3" cy="495.7" rx="17.4" ry="19" fill="url(#bg2)"/><ellipse cx="475" cy="491" rx="4" ry="4.6" fill="#5a5a5a"/><ellipse cx="537.8" cy="484" rx="18.2" ry="18.6" fill="url(#bg1)"/><path d="M565,447 C566,439 572,435 578,435 C589,435 596,442 597.3,452 C598,463 592,473 581,474.4 C570,475 563,467 563,457 C563,453 564,450 565,447 z" fill="url(#bg1)"/></g></g></g>
<line x1="594" y1="518.2" x2="613.8" y2="518.2" stroke="#fff" stroke-width="2"/>
<text x="603.6" y="530.6" font-size="9.6" font-weight="bold" text-anchor="middle" fill="#f0f0f0">50nm</text>
<g clip-path="url(#c2)"><g filter="url(#gr1)"><rect x="450" y="538.3" width="171.7" height="128.3" fill="#9c9c9c"/><g filter="url(#bl4)"><circle cx="465" cy="555" r="28" fill="#acacac"/><circle cx="600" cy="650" r="22" fill="#8e8e8e"/><circle cx="520" cy="600" r="28" fill="#858585"/><circle cx="560" cy="590" r="20" fill="#858585"/><circle cx="480" cy="625" r="20" fill="#909090"/><circle cx="612" cy="560" r="14" fill="#a6a6a6"/><circle cx="525" cy="560" r="34" fill="#7c7c7c"/><circle cx="560" cy="545" r="14" fill="#8a8a8a"/></g><g filter="url(#bl2)"><ellipse cx="530.4" cy="567.8" rx="28" ry="30" fill="#7e7e7e"/><ellipse cx="569" cy="617" rx="22" ry="24" fill="#7e7e7e"/><ellipse cx="533.8" cy="612.5" rx="17" ry="17" fill="#7e7e7e"/><ellipse cx="497" cy="641.4" rx="21" ry="24" fill="#7e7e7e"/><ellipse cx="578.5" cy="560" rx="14" ry="16" fill="#7e7e7e"/></g><g filter="url(#bl1)"><ellipse cx="597.9" cy="560.2" rx="5" ry="5" fill="#d0d0d0"/><ellipse cx="614.4" cy="546.3" rx="6" ry="6" fill="#c8c8c8"/><ellipse cx="573.8" cy="540" rx="3" ry="3" fill="#c0c0c0"/><ellipse cx="577" cy="578.7" rx="5" ry="5" fill="#b0b0b0"/><ellipse cx="514.4" cy="545.9" rx="4" ry="4" fill="#c0c0c0"/><ellipse cx="467" cy="574.8" rx="4" ry="4" fill="#b0b0b0"/><ellipse cx="528.8" cy="634.2" rx="3.5" ry="3.5" fill="#b8b8b8"/><ellipse cx="534.1" cy="645.3" rx="4" ry="4" fill="#c0c0c0"/><ellipse cx="519.6" cy="644" rx="3.5" ry="3.5" fill="#a8a8a8"/><ellipse cx="471" cy="660.4" rx="5.5" ry="5.5" fill="#c8c8c8"/><ellipse cx="458.5" cy="636.8" rx="5" ry="5" fill="#c0c0c0"/><ellipse cx="558" cy="577" rx="4" ry="4" fill="#b5b5b5"/><ellipse cx="576.4" cy="578.4" rx="4.5" ry="4" fill="#bcbcbc"/><ellipse cx="468.6" cy="627" rx="6" ry="6" fill="#c4c4c4"/><ellipse cx="459.5" cy="636" rx="4" ry="4" fill="#bbb"/><ellipse cx="468.6" cy="660" rx="5" ry="5" fill="#c4c4c4"/><ellipse cx="552.7" cy="636" rx="6" ry="6" fill="#c8c8c8"/><ellipse cx="543.5" cy="654.5" rx="5" ry="5" fill="#c8c8c8"/><ellipse cx="529" cy="635" rx="4" ry="4" fill="#bbb"/><ellipse cx="564.5" cy="650.6" rx="3.5" ry="3.5" fill="#c0c0c0"/><ellipse cx="484.4" cy="575.7" rx="4" ry="4" fill="#bbb"/><ellipse cx="516" cy="547" rx="5" ry="5" fill="#b8b8b8"/><ellipse cx="525.7" cy="656.4" rx="8.7" ry="8.7" fill="#d4d4d4"/><ellipse cx="520" cy="647" rx="3" ry="3" fill="#b0b0b0"/><ellipse cx="530.4" cy="567.8" rx="23.6" ry="26.3" fill="url(#bg1)"/><ellipse cx="569" cy="617" rx="19.4" ry="21" fill="url(#bg1)"/><ellipse cx="533.8" cy="612.5" rx="14.5" ry="14.5" fill="url(#bg1)"/><ellipse cx="497" cy="641.4" rx="18.4" ry="21" fill="url(#bg1)"/><ellipse cx="578.5" cy="560" rx="11.1" ry="13.7" fill="url(#bg1)"/></g></g></g>
<line x1="594" y1="654.7" x2="616" y2="654.7" stroke="#fff" stroke-width="2"/>
<text x="604.8" y="666" font-size="9.6" font-weight="bold" text-anchor="middle" fill="#f0f0f0">50nm</text>
<text x="2.6" y="649" font-size="17" font-weight="bold" text-anchor="start" fill="#000">E</text>
<line x1="97.4" y1="662.8" x2="97.4" y2="776.35" stroke="#111" stroke-width="1.6"/>
<line x1="96.6" y1="775.6" x2="297" y2="775.6" stroke="#111" stroke-width="1.6"/>
<line x1="91.2" y1="775.6" x2="97.4" y2="775.6" stroke="#111" stroke-width="1.4"/>
<text x="89.8" y="779.5" font-size="10.8" font-weight="bold" text-anchor="end" fill="#111">50</text>
<line x1="91.2" y1="747.4" x2="97.4" y2="747.4" stroke="#111" stroke-width="1.4"/>
<text x="89.8" y="751.3" font-size="10.8" font-weight="bold" text-anchor="end" fill="#111">75</text>
<line x1="91.2" y1="719.2" x2="97.4" y2="719.2" stroke="#111" stroke-width="1.4"/>
<text x="89.8" y="723.1" font-size="10.8" font-weight="bold" text-anchor="end" fill="#111">100</text>
<line x1="91.2" y1="691" x2="97.4" y2="691" stroke="#111" stroke-width="1.4"/>
<text x="89.8" y="694.9" font-size="10.8" font-weight="bold" text-anchor="end" fill="#111">125</text>
<line x1="91.2" y1="662.8" x2="97.4" y2="662.8" stroke="#111" stroke-width="1.4"/>
<text x="89.8" y="666.7" font-size="10.8" font-weight="bold" text-anchor="end" fill="#111">150</text>
<line x1="97.4" y1="775.6" x2="97.4" y2="779.8" stroke="#111" stroke-width="1.4"/>
<text x="97.4" y="789.8" font-size="10.8" font-weight="bold" text-anchor="middle" fill="#111">0</text>
<line x1="159.6" y1="775.6" x2="159.6" y2="779.8" stroke="#111" stroke-width="1.4"/>
<text x="159.6" y="789.8" font-size="10.8" font-weight="bold" text-anchor="middle" fill="#111">5</text>
<line x1="221.8" y1="775.6" x2="221.8" y2="779.8" stroke="#111" stroke-width="1.4"/>
<text x="221.8" y="789.8" font-size="10.8" font-weight="bold" text-anchor="middle" fill="#111">10</text>
<line x1="284" y1="775.6" x2="284" y2="779.8" stroke="#111" stroke-width="1.4"/>
<text x="284" y="789.8" font-size="10.8" font-weight="bold" text-anchor="middle" fill="#111">15</text>
<line x1="109.84" y1="717.28" x2="109.84" y2="726.31" stroke="#d2493c" stroke-width="0.9" opacity="0.75"/><line x1="107.44" y1="717.28" x2="112.24" y2="717.28" stroke="#d2493c" stroke-width="0.9" opacity="0.75"/><line x1="107.44" y1="726.31" x2="112.24" y2="726.31" stroke="#d2493c" stroke-width="0.9" opacity="0.75"/><line x1="122.28" y1="715.59" x2="122.28" y2="726.87" stroke="#d2493c" stroke-width="0.9" opacity="0.75"/><line x1="119.88" y1="715.59" x2="124.68" y2="715.59" stroke="#d2493c" stroke-width="0.9" opacity="0.75"/><line x1="119.88" y1="726.87" x2="124.68" y2="726.87" stroke="#d2493c" stroke-width="0.9" opacity="0.75"/><line x1="134.72" y1="719.2" x2="134.72" y2="725.97" stroke="#d2493c" stroke-width="0.9" opacity="0.75"/><line x1="132.32" y1="719.2" x2="137.12" y2="719.2" stroke="#d2493c" stroke-width="0.9" opacity="0.75"/><line x1="132.32" y1="725.97" x2="137.12" y2="725.97" stroke="#d2493c" stroke-width="0.9" opacity="0.75"/><line x1="147.16" y1="719.2" x2="147.16" y2="728.22" stroke="#d2493c" stroke-width="0.9" opacity="0.75"/><line x1="144.76" y1="719.2" x2="149.56" y2="719.2" stroke="#d2493c" stroke-width="0.9" opacity="0.75"/><line x1="144.76" y1="728.22" x2="149.56" y2="728.22" stroke="#d2493c" stroke-width="0.9" opacity="0.75"/><line x1="159.6" y1="714.12" x2="159.6" y2="725.4" stroke="#d2493c" stroke-width="0.9" opacity="0.75"/><line x1="157.2" y1="714.12" x2="162" y2="714.12" stroke="#d2493c" stroke-width="0.9" opacity="0.75"/><line x1="157.2" y1="725.4" x2="162" y2="725.4" stroke="#d2493c" stroke-width="0.9" opacity="0.75"/><line x1="172.04" y1="717.85" x2="172.04" y2="724.61" stroke="#d2493c" stroke-width="0.9" opacity="0.75"/><line x1="169.64" y1="717.85" x2="174.44" y2="717.85" stroke="#d2493c" stroke-width="0.9" opacity="0.75"/><line x1="169.64" y1="724.61" x2="174.44" y2="724.61" stroke="#d2493c" stroke-width="0.9" opacity="0.75"/><line x1="184.48" y1="717.28" x2="184.48" y2="726.31" stroke="#d2493c" stroke-width="0.9" opacity="0.75"/><line x1="182.08" y1="717.28" x2="186.88" y2="717.28" stroke="#d2493c" stroke-width="0.9" opacity="0.75"/><line x1="182.08" y1="726.31" x2="186.88" y2="726.31" stroke="#d2493c" stroke-width="0.9" opacity="0.75"/><line x1="196.92" y1="718.41" x2="196.92" y2="725.18" stroke="#d2493c" stroke-width="0.9" opacity="0.75"/><line x1="194.52" y1="718.41" x2="199.32" y2="718.41" stroke="#d2493c" stroke-width="0.9" opacity="0.75"/><line x1="194.52" y1="725.18" x2="199.32" y2="725.18" stroke="#d2493c" stroke-width="0.9" opacity="0.75"/><line x1="209.36" y1="713.67" x2="209.36" y2="722.7" stroke="#d2493c" stroke-width="0.9" opacity="0.75"/><line x1="206.96" y1="713.67" x2="211.76" y2="713.67" stroke="#d2493c" stroke-width="0.9" opacity="0.75"/><line x1="206.96" y1="722.7" x2="211.76" y2="722.7" stroke="#d2493c" stroke-width="0.9" opacity="0.75"/><line x1="221.8" y1="718.3" x2="221.8" y2="722.81" stroke="#d2493c" stroke-width="0.9" opacity="0.75"/><line x1="219.4" y1="718.3" x2="224.2" y2="718.3" stroke="#d2493c" stroke-width="0.9" opacity="0.75"/><line x1="219.4" y1="722.81" x2="224.2" y2="722.81" stroke="#d2493c" stroke-width="0.9" opacity="0.75"/><line x1="234.24" y1="716.72" x2="234.24" y2="725.74" stroke="#d2493c" stroke-width="0.9" opacity="0.75"/><line x1="231.84" y1="716.72" x2="236.64" y2="716.72" stroke="#d2493c" stroke-width="0.9" opacity="0.75"/><line x1="231.84" y1="725.74" x2="236.64" y2="725.74" stroke="#d2493c" stroke-width="0.9" opacity="0.75"/><line x1="246.68" y1="717.51" x2="246.68" y2="726.53" stroke="#d2493c" stroke-width="0.9" opacity="0.75"/><line x1="244.28" y1="717.51" x2="249.08" y2="717.51" stroke="#d2493c" stroke-width="0.9" opacity="0.75"/><line x1="244.28" y1="726.53" x2="249.08" y2="726.53" stroke="#d2493c" stroke-width="0.9" opacity="0.75"/><line x1="259.12" y1="717.85" x2="259.12" y2="724.61" stroke="#d2493c" stroke-width="0.9" opacity="0.75"/><line x1="256.72" y1="717.85" x2="261.52" y2="717.85" stroke="#d2493c" stroke-width="0.9" opacity="0.75"/><line x1="256.72" y1="724.61" x2="261.52" y2="724.61" stroke="#d2493c" stroke-width="0.9" opacity="0.75"/><line x1="271.56" y1="717.85" x2="271.56" y2="724.61" stroke="#d2493c" stroke-width="0.9" opacity="0.75"/><line x1="269.16" y1="717.85" x2="273.96" y2="717.85" stroke="#d2493c" stroke-width="0.9" opacity="0.75"/><line x1="269.16" y1="724.61" x2="273.96" y2="724.61" stroke="#d2493c" stroke-width="0.9" opacity="0.75"/><line x1="284" y1="710.74" x2="284" y2="719.76" stroke="#d2493c" stroke-width="0.9" opacity="0.75"/><line x1="281.6" y1="710.74" x2="286.4" y2="710.74" stroke="#d2493c" stroke-width="0.9" opacity="0.75"/><line x1="281.6" y1="719.76" x2="286.4" y2="719.76" stroke="#d2493c" stroke-width="0.9" opacity="0.75"/>
<path d="M109.84,721.79 L122.28,721.23 L134.72,722.58 L147.16,723.71 L159.6,719.76 L172.04,721.23 L184.48,721.79 L196.92,721.79 L209.36,718.18 L221.8,720.55 L234.24,721.23 L246.68,722.02 L259.12,721.23 L271.56,721.23 L284,715.25" stroke="#d2493c" stroke-width="1.8" fill="none" stroke-linejoin="round"/>
<circle cx="109.84" cy="721.79" r="2.4" fill="#d2493c"/><circle cx="122.28" cy="721.23" r="2.4" fill="#d2493c"/><circle cx="134.72" cy="722.58" r="2.4" fill="#d2493c"/><circle cx="147.16" cy="723.71" r="2.4" fill="#d2493c"/><circle cx="159.6" cy="719.76" r="2.4" fill="#d2493c"/><circle cx="172.04" cy="721.23" r="2.4" fill="#d2493c"/><circle cx="184.48" cy="721.79" r="2.4" fill="#d2493c"/><circle cx="196.92" cy="721.79" r="2.4" fill="#d2493c"/><circle cx="209.36" cy="718.18" r="2.4" fill="#d2493c"/><circle cx="221.8" cy="720.55" r="2.4" fill="#d2493c"/><circle cx="234.24" cy="721.23" r="2.4" fill="#d2493c"/><circle cx="246.68" cy="722.02" r="2.4" fill="#d2493c"/><circle cx="259.12" cy="721.23" r="2.4" fill="#d2493c"/><circle cx="271.56" cy="721.23" r="2.4" fill="#d2493c"/><circle cx="284" cy="715.25" r="2.4" fill="#d2493c"/>
<line x1="109.84" y1="703.63" x2="109.84" y2="714.91" stroke="#35a047" stroke-width="0.9" opacity="0.75"/><line x1="107.44" y1="703.63" x2="112.24" y2="703.63" stroke="#35a047" stroke-width="0.9" opacity="0.75"/><line x1="107.44" y1="714.91" x2="112.24" y2="714.91" stroke="#35a047" stroke-width="0.9" opacity="0.75"/><line x1="122.28" y1="709.27" x2="122.28" y2="716.04" stroke="#35a047" stroke-width="0.9" opacity="0.75"/><line x1="119.88" y1="709.27" x2="124.68" y2="709.27" stroke="#35a047" stroke-width="0.9" opacity="0.75"/><line x1="119.88" y1="716.04" x2="124.68" y2="716.04" stroke="#35a047" stroke-width="0.9" opacity="0.75"/><line x1="134.72" y1="709.05" x2="134.72" y2="713.56" stroke="#35a047" stroke-width="0.9" opacity="0.75"/><line x1="132.32" y1="709.05" x2="137.12" y2="709.05" stroke="#35a047" stroke-width="0.9" opacity="0.75"/><line x1="132.32" y1="713.56" x2="137.12" y2="713.56" stroke="#35a047" stroke-width="0.9" opacity="0.75"/><line x1="147.16" y1="708.03" x2="147.16" y2="712.54" stroke="#35a047" stroke-width="0.9" opacity="0.75"/><line x1="144.76" y1="708.03" x2="149.56" y2="708.03" stroke="#35a047" stroke-width="0.9" opacity="0.75"/><line x1="144.76" y1="712.54" x2="149.56" y2="712.54" stroke="#35a047" stroke-width="0.9" opacity="0.75"/><line x1="159.6" y1="697.09" x2="159.6" y2="708.37" stroke="#35a047" stroke-width="0.9" opacity="0.75"/><line x1="157.2" y1="697.09" x2="162" y2="697.09" stroke="#35a047" stroke-width="0.9" opacity="0.75"/><line x1="157.2" y1="708.37" x2="162" y2="708.37" stroke="#35a047" stroke-width="0.9" opacity="0.75"/><line x1="172.04" y1="702.84" x2="172.04" y2="711.87" stroke="#35a047" stroke-width="0.9" opacity="0.75"/><line x1="169.64" y1="702.84" x2="174.44" y2="702.84" stroke="#35a047" stroke-width="0.9" opacity="0.75"/><line x1="169.64" y1="711.87" x2="174.44" y2="711.87" stroke="#35a047" stroke-width="0.9" opacity="0.75"/><line x1="184.48" y1="709.27" x2="184.48" y2="725.07" stroke="#35a047" stroke-width="0.9" opacity="0.75"/><line x1="182.08" y1="709.27" x2="186.88" y2="709.27" stroke="#35a047" stroke-width="0.9" opacity="0.75"/><line x1="182.08" y1="725.07" x2="186.88" y2="725.07" stroke="#35a047" stroke-width="0.9" opacity="0.75"/><line x1="196.92" y1="708.37" x2="196.92" y2="712.88" stroke="#35a047" stroke-width="0.9" opacity="0.75"/><line x1="194.52" y1="708.37" x2="199.32" y2="708.37" stroke="#35a047" stroke-width="0.9" opacity="0.75"/><line x1="194.52" y1="712.88" x2="199.32" y2="712.88" stroke="#35a047" stroke-width="0.9" opacity="0.75"/><line x1="209.36" y1="696.19" x2="209.36" y2="709.72" stroke="#35a047" stroke-width="0.9" opacity="0.75"/><line x1="206.96" y1="696.19" x2="211.76" y2="696.19" stroke="#35a047" stroke-width="0.9" opacity="0.75"/><line x1="206.96" y1="709.72" x2="211.76" y2="709.72" stroke="#35a047" stroke-width="0.9" opacity="0.75"/><line x1="221.8" y1="707.47" x2="221.8" y2="711.98" stroke="#35a047" stroke-width="0.9" opacity="0.75"/><line x1="219.4" y1="707.47" x2="224.2" y2="707.47" stroke="#35a047" stroke-width="0.9" opacity="0.75"/><line x1="219.4" y1="711.98" x2="224.2" y2="711.98" stroke="#35a047" stroke-width="0.9" opacity="0.75"/><line x1="234.24" y1="706.23" x2="234.24" y2="715.25" stroke="#35a047" stroke-width="0.9" opacity="0.75"/><line x1="231.84" y1="706.23" x2="236.64" y2="706.23" stroke="#35a047" stroke-width="0.9" opacity="0.75"/><line x1="231.84" y1="715.25" x2="236.64" y2="715.25" stroke="#35a047" stroke-width="0.9" opacity="0.75"/><line x1="246.68" y1="705.1" x2="246.68" y2="716.38" stroke="#35a047" stroke-width="0.9" opacity="0.75"/><line x1="244.28" y1="705.1" x2="249.08" y2="705.1" stroke="#35a047" stroke-width="0.9" opacity="0.75"/><line x1="244.28" y1="716.38" x2="249.08" y2="716.38" stroke="#35a047" stroke-width="0.9" opacity="0.75"/><line x1="259.12" y1="704.31" x2="259.12" y2="715.59" stroke="#35a047" stroke-width="0.9" opacity="0.75"/><line x1="256.72" y1="704.31" x2="261.52" y2="704.31" stroke="#35a047" stroke-width="0.9" opacity="0.75"/><line x1="256.72" y1="715.59" x2="261.52" y2="715.59" stroke="#35a047" stroke-width="0.9" opacity="0.75"/><line x1="271.56" y1="715.36" x2="271.56" y2="719.88" stroke="#35a047" stroke-width="0.9" opacity="0.75"/><line x1="269.16" y1="715.36" x2="273.96" y2="715.36" stroke="#35a047" stroke-width="0.9" opacity="0.75"/><line x1="269.16" y1="719.88" x2="273.96" y2="719.88" stroke="#35a047" stroke-width="0.9" opacity="0.75"/><line x1="284" y1="705.78" x2="284" y2="714.8" stroke="#35a047" stroke-width="0.9" opacity="0.75"/><line x1="281.6" y1="705.78" x2="286.4" y2="705.78" stroke="#35a047" stroke-width="0.9" opacity="0.75"/><line x1="281.6" y1="714.8" x2="286.4" y2="714.8" stroke="#35a047" stroke-width="0.9" opacity="0.75"/>
<path d="M109.84,709.27 L122.28,712.66 L134.72,711.3 L147.16,710.29 L159.6,702.73 L172.04,707.36 L184.48,717.17 L196.92,710.63 L209.36,702.96 L221.8,709.72 L234.24,710.74 L246.68,710.74 L259.12,709.95 L271.56,717.62 L284,710.29" stroke="#35a047" stroke-width="1.8" fill="none" stroke-linejoin="round"/>
<circle cx="109.84" cy="709.27" r="2.4" fill="#35a047"/><circle cx="122.28" cy="712.66" r="2.4" fill="#35a047"/><circle cx="134.72" cy="711.3" r="2.4" fill="#35a047"/><circle cx="147.16" cy="710.29" r="2.4" fill="#35a047"/><circle cx="159.6" cy="702.73" r="2.4" fill="#35a047"/><circle cx="172.04" cy="707.36" r="2.4" fill="#35a047"/><circle cx="184.48" cy="717.17" r="2.4" fill="#35a047"/><circle cx="196.92" cy="710.63" r="2.4" fill="#35a047"/><circle cx="209.36" cy="702.96" r="2.4" fill="#35a047"/><circle cx="221.8" cy="709.72" r="2.4" fill="#35a047"/><circle cx="234.24" cy="710.74" r="2.4" fill="#35a047"/><circle cx="246.68" cy="710.74" r="2.4" fill="#35a047"/><circle cx="259.12" cy="709.95" r="2.4" fill="#35a047"/><circle cx="271.56" cy="717.62" r="2.4" fill="#35a047"/><circle cx="284" cy="710.29" r="2.4" fill="#35a047"/>
<line x1="109.84" y1="711.87" x2="109.84" y2="718.64" stroke="#4f9ff0" stroke-width="0.9" opacity="0.75"/><line x1="107.44" y1="711.87" x2="112.24" y2="711.87" stroke="#4f9ff0" stroke-width="0.9" opacity="0.75"/><line x1="107.44" y1="718.64" x2="112.24" y2="718.64" stroke="#4f9ff0" stroke-width="0.9" opacity="0.75"/><line x1="122.28" y1="714.8" x2="122.28" y2="721.57" stroke="#4f9ff0" stroke-width="0.9" opacity="0.75"/><line x1="119.88" y1="714.8" x2="124.68" y2="714.8" stroke="#4f9ff0" stroke-width="0.9" opacity="0.75"/><line x1="119.88" y1="721.57" x2="124.68" y2="721.57" stroke="#4f9ff0" stroke-width="0.9" opacity="0.75"/><line x1="134.72" y1="710.51" x2="134.72" y2="717.28" stroke="#4f9ff0" stroke-width="0.9" opacity="0.75"/><line x1="132.32" y1="710.51" x2="137.12" y2="710.51" stroke="#4f9ff0" stroke-width="0.9" opacity="0.75"/><line x1="132.32" y1="717.28" x2="137.12" y2="717.28" stroke="#4f9ff0" stroke-width="0.9" opacity="0.75"/><line x1="147.16" y1="707.47" x2="147.16" y2="714.24" stroke="#4f9ff0" stroke-width="0.9" opacity="0.75"/><line x1="144.76" y1="707.47" x2="149.56" y2="707.47" stroke="#4f9ff0" stroke-width="0.9" opacity="0.75"/><line x1="144.76" y1="714.24" x2="149.56" y2="714.24" stroke="#4f9ff0" stroke-width="0.9" opacity="0.75"/><line x1="159.6" y1="695.29" x2="159.6" y2="720.1" stroke="#4f9ff0" stroke-width="0.9" opacity="0.75"/><line x1="157.2" y1="695.29" x2="162" y2="695.29" stroke="#4f9ff0" stroke-width="0.9" opacity="0.75"/><line x1="157.2" y1="720.1" x2="162" y2="720.1" stroke="#4f9ff0" stroke-width="0.9" opacity="0.75"/><line x1="172.04" y1="713.33" x2="172.04" y2="717.85" stroke="#4f9ff0" stroke-width="0.9" opacity="0.75"/><line x1="169.64" y1="713.33" x2="174.44" y2="713.33" stroke="#4f9ff0" stroke-width="0.9" opacity="0.75"/><line x1="169.64" y1="717.85" x2="174.44" y2="717.85" stroke="#4f9ff0" stroke-width="0.9" opacity="0.75"/><line x1="184.48" y1="719.54" x2="184.48" y2="724.05" stroke="#4f9ff0" stroke-width="0.9" opacity="0.75"/><line x1="182.08" y1="719.54" x2="186.88" y2="719.54" stroke="#4f9ff0" stroke-width="0.9" opacity="0.75"/><line x1="182.08" y1="724.05" x2="186.88" y2="724.05" stroke="#4f9ff0" stroke-width="0.9" opacity="0.75"/><line x1="196.92" y1="718.18" x2="196.92" y2="724.95" stroke="#4f9ff0" stroke-width="0.9" opacity="0.75"/><line x1="194.52" y1="718.18" x2="199.32" y2="718.18" stroke="#4f9ff0" stroke-width="0.9" opacity="0.75"/><line x1="194.52" y1="724.95" x2="199.32" y2="724.95" stroke="#4f9ff0" stroke-width="0.9" opacity="0.75"/><line x1="209.36" y1="720.89" x2="209.36" y2="725.4" stroke="#4f9ff0" stroke-width="0.9" opacity="0.75"/><line x1="206.96" y1="720.89" x2="211.76" y2="720.89" stroke="#4f9ff0" stroke-width="0.9" opacity="0.75"/><line x1="206.96" y1="725.4" x2="211.76" y2="725.4" stroke="#4f9ff0" stroke-width="0.9" opacity="0.75"/><line x1="221.8" y1="725.74" x2="221.8" y2="732.51" stroke="#4f9ff0" stroke-width="0.9" opacity="0.75"/><line x1="219.4" y1="725.74" x2="224.2" y2="725.74" stroke="#4f9ff0" stroke-width="0.9" opacity="0.75"/><line x1="219.4" y1="732.51" x2="224.2" y2="732.51" stroke="#4f9ff0" stroke-width="0.9" opacity="0.75"/><line x1="234.24" y1="720.89" x2="234.24" y2="725.4" stroke="#4f9ff0" stroke-width="0.9" opacity="0.75"/><line x1="231.84" y1="720.89" x2="236.64" y2="720.89" stroke="#4f9ff0" stroke-width="0.9" opacity="0.75"/><line x1="231.84" y1="725.4" x2="236.64" y2="725.4" stroke="#4f9ff0" stroke-width="0.9" opacity="0.75"/><line x1="246.68" y1="719.76" x2="246.68" y2="726.53" stroke="#4f9ff0" stroke-width="0.9" opacity="0.75"/><line x1="244.28" y1="719.76" x2="249.08" y2="719.76" stroke="#4f9ff0" stroke-width="0.9" opacity="0.75"/><line x1="244.28" y1="726.53" x2="249.08" y2="726.53" stroke="#4f9ff0" stroke-width="0.9" opacity="0.75"/><line x1="259.12" y1="728.34" x2="259.12" y2="735.1" stroke="#4f9ff0" stroke-width="0.9" opacity="0.75"/><line x1="256.72" y1="728.34" x2="261.52" y2="728.34" stroke="#4f9ff0" stroke-width="0.9" opacity="0.75"/><line x1="256.72" y1="735.1" x2="261.52" y2="735.1" stroke="#4f9ff0" stroke-width="0.9" opacity="0.75"/><line x1="271.56" y1="723.49" x2="271.56" y2="728" stroke="#4f9ff0" stroke-width="0.9" opacity="0.75"/><line x1="269.16" y1="723.49" x2="273.96" y2="723.49" stroke="#4f9ff0" stroke-width="0.9" opacity="0.75"/><line x1="269.16" y1="728" x2="273.96" y2="728" stroke="#4f9ff0" stroke-width="0.9" opacity="0.75"/><line x1="284" y1="724.16" x2="284" y2="733.19" stroke="#4f9ff0" stroke-width="0.9" opacity="0.75"/><line x1="281.6" y1="724.16" x2="286.4" y2="724.16" stroke="#4f9ff0" stroke-width="0.9" opacity="0.75"/><line x1="281.6" y1="733.19" x2="286.4" y2="733.19" stroke="#4f9ff0" stroke-width="0.9" opacity="0.75"/>
<path d="M109.84,715.25 L122.28,718.18 L134.72,713.9 L147.16,710.85 L159.6,707.69 L172.04,715.59 L184.48,721.79 L196.92,721.57 L209.36,723.15 L221.8,729.13 L234.24,723.15 L246.68,723.15 L259.12,731.72 L271.56,725.74 L284,728.68" stroke="#4f9ff0" stroke-width="1.8" fill="none" stroke-linejoin="round"/>
<circle cx="109.84" cy="715.25" r="2.4" fill="#4f9ff0"/><circle cx="122.28" cy="718.18" r="2.4" fill="#4f9ff0"/><circle cx="134.72" cy="713.9" r="2.4" fill="#4f9ff0"/><circle cx="147.16" cy="710.85" r="2.4" fill="#4f9ff0"/><circle cx="159.6" cy="707.69" r="2.4" fill="#4f9ff0"/><circle cx="172.04" cy="715.59" r="2.4" fill="#4f9ff0"/><circle cx="184.48" cy="721.79" r="2.4" fill="#4f9ff0"/><circle cx="196.92" cy="721.57" r="2.4" fill="#4f9ff0"/><circle cx="209.36" cy="723.15" r="2.4" fill="#4f9ff0"/><circle cx="221.8" cy="729.13" r="2.4" fill="#4f9ff0"/><circle cx="234.24" cy="723.15" r="2.4" fill="#4f9ff0"/><circle cx="246.68" cy="723.15" r="2.4" fill="#4f9ff0"/><circle cx="259.12" cy="731.72" r="2.4" fill="#4f9ff0"/><circle cx="271.56" cy="725.74" r="2.4" fill="#4f9ff0"/><circle cx="284" cy="728.68" r="2.4" fill="#4f9ff0"/>
<line x1="123" y1="674.4" x2="138" y2="674.4" stroke="#4f9ff0" stroke-width="1.6"/>
<circle cx="130.6" cy="674.4" r="2.1" fill="#4f9ff0"/>
<line x1="178" y1="674.4" x2="193" y2="674.4" stroke="#d2493c" stroke-width="1.6"/>
<circle cx="185.6" cy="674.4" r="2.1" fill="#d2493c"/>
<line x1="233.6" y1="674.4" x2="249" y2="674.4" stroke="#35a047" stroke-width="1.6"/>
<circle cx="241.4" cy="674.4" r="2.1" fill="#35a047"/>
<text x="146.4" y="678.4" font-size="11.3" font-weight="normal" text-anchor="start" fill="#222">R.T.</text>
<text x="201.6" y="678.4" font-size="11.3" font-weight="normal" text-anchor="start" fill="#222">37°C</text>
<text x="256.4" y="678.4" font-size="11.3" font-weight="normal" text-anchor="start" fill="#222">4°C</text>
<text x="191.2" y="759" font-size="19.2" font-weight="normal" text-anchor="middle" fill="#ec1a22">PBS</text>
<g transform="translate(65.4 768.5) rotate(-90)"><text x="0" y="0" font-size="11.8" font-weight="bold" text-anchor="start" fill="#111">Particle size</text><path d="M73.5,-9.6 Q68.3,-4.5 73.5,0.6" stroke="#111" stroke-width="1.05" fill="none"/><text x="75.2" y="0" font-size="11.8" font-weight="bold" text-anchor="start" fill="#111">nm</text><path d="M93.5,-9.6 Q97.9,-4.5 93.5,0.6" stroke="#111" stroke-width="1.05" fill="none"/></g>
<text x="197.4" y="805.4" font-size="11.7" font-weight="bold" text-anchor="middle" fill="#111">Time (Days)</text>
<line x1="96.5" y1="819.6" x2="96.5" y2="932.35" stroke="#111" stroke-width="1.6"/>
<line x1="95.7" y1="931.6" x2="295" y2="931.6" stroke="#111" stroke-width="1.6"/>
<line x1="90.3" y1="931.6" x2="96.5" y2="931.6" stroke="#111" stroke-width="1.4"/>
<text x="88.9" y="935.5" font-size="10.8" font-weight="bold" text-anchor="end" fill="#111">50</text>
<line x1="90.3" y1="903.6" x2="96.5" y2="903.6" stroke="#111" stroke-width="1.4"/>
<text x="88.9" y="907.5" font-size="10.8" font-weight="bold" text-anchor="end" fill="#111">75</text>
<line x1="90.3" y1="875.6" x2="96.5" y2="875.6" stroke="#111" stroke-width="1.4"/>
<text x="88.9" y="879.5" font-size="10.8" font-weight="bold" text-anchor="end" fill="#111">100</text>
<line x1="90.3" y1="847.6" x2="96.5" y2="847.6" stroke="#111" stroke-width="1.4"/>
<text x="88.9" y="851.5" font-size="10.8" font-weight="bold" text-anchor="end" fill="#111">125</text>
<line x1="90.3" y1="819.6" x2="96.5" y2="819.6" stroke="#111" stroke-width="1.4"/>
<text x="88.9" y="823.5" font-size="10.8" font-weight="bold" text-anchor="end" fill="#111">150</text>
<line x1="96.5" y1="931.6" x2="96.5" y2="935.8" stroke="#111" stroke-width="1.4"/>
<text x="96.5" y="949" font-size="10.8" font-weight="bold" text-anchor="middle" fill="#111">0</text>
<line x1="158.5" y1="931.6" x2="158.5" y2="935.8" stroke="#111" stroke-width="1.4"/>
<text x="158.5" y="949" font-size="10.8" font-weight="bold" text-anchor="middle" fill="#111">5</text>
<line x1="220.5" y1="931.6" x2="220.5" y2="935.8" stroke="#111" stroke-width="1.4"/>
<text x="220.5" y="949" font-size="10.8" font-weight="bold" text-anchor="middle" fill="#111">10</text>
<line x1="282.5" y1="931.6" x2="282.5" y2="935.8" stroke="#111" stroke-width="1.4"/>
<text x="282.5" y="949" font-size="10.8" font-weight="bold" text-anchor="middle" fill="#111">15</text>
<line x1="108.9" y1="870.84" x2="108.9" y2="877.56" stroke="#d2493c" stroke-width="0.9" opacity="0.75"/><line x1="106.5" y1="870.84" x2="111.3" y2="870.84" stroke="#d2493c" stroke-width="0.9" opacity="0.75"/><line x1="106.5" y1="877.56" x2="111.3" y2="877.56" stroke="#d2493c" stroke-width="0.9" opacity="0.75"/><line x1="121.3" y1="872.8" x2="121.3" y2="879.52" stroke="#d2493c" stroke-width="0.9" opacity="0.75"/><line x1="118.9" y1="872.8" x2="123.7" y2="872.8" stroke="#d2493c" stroke-width="0.9" opacity="0.75"/><line x1="118.9" y1="879.52" x2="123.7" y2="879.52" stroke="#d2493c" stroke-width="0.9" opacity="0.75"/><line x1="133.7" y1="870.11" x2="133.7" y2="890.27" stroke="#d2493c" stroke-width="0.9" opacity="0.75"/><line x1="131.3" y1="870.11" x2="136.1" y2="870.11" stroke="#d2493c" stroke-width="0.9" opacity="0.75"/><line x1="131.3" y1="890.27" x2="136.1" y2="890.27" stroke="#d2493c" stroke-width="0.9" opacity="0.75"/><line x1="146.1" y1="873.25" x2="146.1" y2="879.97" stroke="#d2493c" stroke-width="0.9" opacity="0.75"/><line x1="143.7" y1="873.25" x2="148.5" y2="873.25" stroke="#d2493c" stroke-width="0.9" opacity="0.75"/><line x1="143.7" y1="879.97" x2="148.5" y2="879.97" stroke="#d2493c" stroke-width="0.9" opacity="0.75"/><line x1="158.5" y1="871.12" x2="158.5" y2="880.08" stroke="#d2493c" stroke-width="0.9" opacity="0.75"/><line x1="156.1" y1="871.12" x2="160.9" y2="871.12" stroke="#d2493c" stroke-width="0.9" opacity="0.75"/><line x1="156.1" y1="880.08" x2="160.9" y2="880.08" stroke="#d2493c" stroke-width="0.9" opacity="0.75"/><line x1="170.9" y1="875.04" x2="170.9" y2="886.24" stroke="#d2493c" stroke-width="0.9" opacity="0.75"/><line x1="168.5" y1="875.04" x2="173.3" y2="875.04" stroke="#d2493c" stroke-width="0.9" opacity="0.75"/><line x1="168.5" y1="886.24" x2="173.3" y2="886.24" stroke="#d2493c" stroke-width="0.9" opacity="0.75"/><line x1="183.3" y1="874.37" x2="183.3" y2="878.85" stroke="#d2493c" stroke-width="0.9" opacity="0.75"/><line x1="180.9" y1="874.37" x2="185.7" y2="874.37" stroke="#d2493c" stroke-width="0.9" opacity="0.75"/><line x1="180.9" y1="878.85" x2="185.7" y2="878.85" stroke="#d2493c" stroke-width="0.9" opacity="0.75"/><line x1="195.7" y1="874.37" x2="195.7" y2="878.85" stroke="#d2493c" stroke-width="0.9" opacity="0.75"/><line x1="193.3" y1="874.37" x2="198.1" y2="874.37" stroke="#d2493c" stroke-width="0.9" opacity="0.75"/><line x1="193.3" y1="878.85" x2="198.1" y2="878.85" stroke="#d2493c" stroke-width="0.9" opacity="0.75"/><line x1="208.1" y1="871.23" x2="208.1" y2="877.95" stroke="#d2493c" stroke-width="0.9" opacity="0.75"/><line x1="205.7" y1="871.23" x2="210.5" y2="871.23" stroke="#d2493c" stroke-width="0.9" opacity="0.75"/><line x1="205.7" y1="877.95" x2="210.5" y2="877.95" stroke="#d2493c" stroke-width="0.9" opacity="0.75"/><line x1="220.5" y1="875.04" x2="220.5" y2="886.24" stroke="#d2493c" stroke-width="0.9" opacity="0.75"/><line x1="218.1" y1="875.04" x2="222.9" y2="875.04" stroke="#d2493c" stroke-width="0.9" opacity="0.75"/><line x1="218.1" y1="886.24" x2="222.9" y2="886.24" stroke="#d2493c" stroke-width="0.9" opacity="0.75"/><line x1="232.9" y1="875.15" x2="232.9" y2="884.11" stroke="#d2493c" stroke-width="0.9" opacity="0.75"/><line x1="230.5" y1="875.15" x2="235.3" y2="875.15" stroke="#d2493c" stroke-width="0.9" opacity="0.75"/><line x1="230.5" y1="884.11" x2="235.3" y2="884.11" stroke="#d2493c" stroke-width="0.9" opacity="0.75"/><line x1="245.3" y1="877.17" x2="245.3" y2="886.13" stroke="#d2493c" stroke-width="0.9" opacity="0.75"/><line x1="242.9" y1="877.17" x2="247.7" y2="877.17" stroke="#d2493c" stroke-width="0.9" opacity="0.75"/><line x1="242.9" y1="886.13" x2="247.7" y2="886.13" stroke="#d2493c" stroke-width="0.9" opacity="0.75"/><line x1="257.7" y1="874.26" x2="257.7" y2="880.98" stroke="#d2493c" stroke-width="0.9" opacity="0.75"/><line x1="255.3" y1="874.26" x2="260.1" y2="874.26" stroke="#d2493c" stroke-width="0.9" opacity="0.75"/><line x1="255.3" y1="880.98" x2="260.1" y2="880.98" stroke="#d2493c" stroke-width="0.9" opacity="0.75"/><line x1="270.1" y1="873.08" x2="270.1" y2="875.32" stroke="#d2493c" stroke-width="0.9" opacity="0.75"/><line x1="267.7" y1="873.08" x2="272.5" y2="873.08" stroke="#d2493c" stroke-width="0.9" opacity="0.75"/><line x1="267.7" y1="875.32" x2="272.5" y2="875.32" stroke="#d2493c" stroke-width="0.9" opacity="0.75"/><line x1="282.5" y1="872.69" x2="282.5" y2="879.41" stroke="#d2493c" stroke-width="0.9" opacity="0.75"/><line x1="280.1" y1="872.69" x2="284.9" y2="872.69" stroke="#d2493c" stroke-width="0.9" opacity="0.75"/><line x1="280.1" y1="879.41" x2="284.9" y2="879.41" stroke="#d2493c" stroke-width="0.9" opacity="0.75"/>
<path d="M108.9,874.2 L121.3,876.16 L133.7,880.19 L146.1,876.61 L158.5,875.6 L170.9,880.64 L183.3,876.61 L195.7,876.61 L208.1,874.59 L220.5,880.64 L232.9,879.63 L245.3,881.65 L257.7,877.62 L270.1,874.2 L282.5,876.05" stroke="#d2493c" stroke-width="1.8" fill="none" stroke-linejoin="round"/>
<circle cx="108.9" cy="874.2" r="2.4" fill="#d2493c"/><circle cx="121.3" cy="876.16" r="2.4" fill="#d2493c"/><circle cx="133.7" cy="880.19" r="2.4" fill="#d2493c"/><circle cx="146.1" cy="876.61" r="2.4" fill="#d2493c"/><circle cx="158.5" cy="875.6" r="2.4" fill="#d2493c"/><circle cx="170.9" cy="880.64" r="2.4" fill="#d2493c"/><circle cx="183.3" cy="876.61" r="2.4" fill="#d2493c"/><circle cx="195.7" cy="876.61" r="2.4" fill="#d2493c"/><circle cx="208.1" cy="874.59" r="2.4" fill="#d2493c"/><circle cx="220.5" cy="880.64" r="2.4" fill="#d2493c"/><circle cx="232.9" cy="879.63" r="2.4" fill="#d2493c"/><circle cx="245.3" cy="881.65" r="2.4" fill="#d2493c"/><circle cx="257.7" cy="877.62" r="2.4" fill="#d2493c"/><circle cx="270.1" cy="874.2" r="2.4" fill="#d2493c"/><circle cx="282.5" cy="876.05" r="2.4" fill="#d2493c"/>
<line x1="108.9" y1="865.63" x2="108.9" y2="872.35" stroke="#35a047" stroke-width="0.9" opacity="0.75"/><line x1="106.5" y1="865.63" x2="111.3" y2="865.63" stroke="#35a047" stroke-width="0.9" opacity="0.75"/><line x1="106.5" y1="872.35" x2="111.3" y2="872.35" stroke="#35a047" stroke-width="0.9" opacity="0.75"/><line x1="121.3" y1="866.98" x2="121.3" y2="871.46" stroke="#35a047" stroke-width="0.9" opacity="0.75"/><line x1="118.9" y1="866.98" x2="123.7" y2="866.98" stroke="#35a047" stroke-width="0.9" opacity="0.75"/><line x1="118.9" y1="871.46" x2="123.7" y2="871.46" stroke="#35a047" stroke-width="0.9" opacity="0.75"/><line x1="133.7" y1="866.75" x2="133.7" y2="871.23" stroke="#35a047" stroke-width="0.9" opacity="0.75"/><line x1="131.3" y1="866.75" x2="136.1" y2="866.75" stroke="#35a047" stroke-width="0.9" opacity="0.75"/><line x1="131.3" y1="871.23" x2="136.1" y2="871.23" stroke="#35a047" stroke-width="0.9" opacity="0.75"/><line x1="146.1" y1="868.1" x2="146.1" y2="870.34" stroke="#35a047" stroke-width="0.9" opacity="0.75"/><line x1="143.7" y1="868.1" x2="148.5" y2="868.1" stroke="#35a047" stroke-width="0.9" opacity="0.75"/><line x1="143.7" y1="870.34" x2="148.5" y2="870.34" stroke="#35a047" stroke-width="0.9" opacity="0.75"/><line x1="158.5" y1="858.24" x2="158.5" y2="864.96" stroke="#35a047" stroke-width="0.9" opacity="0.75"/><line x1="156.1" y1="858.24" x2="160.9" y2="858.24" stroke="#35a047" stroke-width="0.9" opacity="0.75"/><line x1="156.1" y1="864.96" x2="160.9" y2="864.96" stroke="#35a047" stroke-width="0.9" opacity="0.75"/><line x1="170.9" y1="863.95" x2="170.9" y2="868.43" stroke="#35a047" stroke-width="0.9" opacity="0.75"/><line x1="168.5" y1="863.95" x2="173.3" y2="863.95" stroke="#35a047" stroke-width="0.9" opacity="0.75"/><line x1="168.5" y1="868.43" x2="173.3" y2="868.43" stroke="#35a047" stroke-width="0.9" opacity="0.75"/><line x1="183.3" y1="867.48" x2="183.3" y2="869.72" stroke="#35a047" stroke-width="0.9" opacity="0.75"/><line x1="180.9" y1="867.48" x2="185.7" y2="867.48" stroke="#35a047" stroke-width="0.9" opacity="0.75"/><line x1="180.9" y1="869.72" x2="185.7" y2="869.72" stroke="#35a047" stroke-width="0.9" opacity="0.75"/><line x1="195.7" y1="863.17" x2="195.7" y2="872.13" stroke="#35a047" stroke-width="0.9" opacity="0.75"/><line x1="193.3" y1="863.17" x2="198.1" y2="863.17" stroke="#35a047" stroke-width="0.9" opacity="0.75"/><line x1="193.3" y1="872.13" x2="198.1" y2="872.13" stroke="#35a047" stroke-width="0.9" opacity="0.75"/><line x1="208.1" y1="863.5" x2="208.1" y2="865.74" stroke="#35a047" stroke-width="0.9" opacity="0.75"/><line x1="205.7" y1="863.5" x2="210.5" y2="863.5" stroke="#35a047" stroke-width="0.9" opacity="0.75"/><line x1="205.7" y1="865.74" x2="210.5" y2="865.74" stroke="#35a047" stroke-width="0.9" opacity="0.75"/><line x1="220.5" y1="864.4" x2="220.5" y2="868.88" stroke="#35a047" stroke-width="0.9" opacity="0.75"/><line x1="218.1" y1="864.4" x2="222.9" y2="864.4" stroke="#35a047" stroke-width="0.9" opacity="0.75"/><line x1="218.1" y1="868.88" x2="222.9" y2="868.88" stroke="#35a047" stroke-width="0.9" opacity="0.75"/><line x1="232.9" y1="865.24" x2="232.9" y2="871.96" stroke="#35a047" stroke-width="0.9" opacity="0.75"/><line x1="230.5" y1="865.24" x2="235.3" y2="865.24" stroke="#35a047" stroke-width="0.9" opacity="0.75"/><line x1="230.5" y1="871.96" x2="235.3" y2="871.96" stroke="#35a047" stroke-width="0.9" opacity="0.75"/><line x1="245.3" y1="870.78" x2="245.3" y2="875.26" stroke="#35a047" stroke-width="0.9" opacity="0.75"/><line x1="242.9" y1="870.78" x2="247.7" y2="870.78" stroke="#35a047" stroke-width="0.9" opacity="0.75"/><line x1="242.9" y1="875.26" x2="247.7" y2="875.26" stroke="#35a047" stroke-width="0.9" opacity="0.75"/><line x1="257.7" y1="866.98" x2="257.7" y2="871.46" stroke="#35a047" stroke-width="0.9" opacity="0.75"/><line x1="255.3" y1="866.98" x2="260.1" y2="866.98" stroke="#35a047" stroke-width="0.9" opacity="0.75"/><line x1="255.3" y1="871.46" x2="260.1" y2="871.46" stroke="#35a047" stroke-width="0.9" opacity="0.75"/><line x1="270.1" y1="873.08" x2="270.1" y2="875.32" stroke="#35a047" stroke-width="0.9" opacity="0.75"/><line x1="267.7" y1="873.08" x2="272.5" y2="873.08" stroke="#35a047" stroke-width="0.9" opacity="0.75"/><line x1="267.7" y1="875.32" x2="272.5" y2="875.32" stroke="#35a047" stroke-width="0.9" opacity="0.75"/><line x1="282.5" y1="869.33" x2="282.5" y2="873.81" stroke="#35a047" stroke-width="0.9" opacity="0.75"/><line x1="280.1" y1="869.33" x2="284.9" y2="869.33" stroke="#35a047" stroke-width="0.9" opacity="0.75"/><line x1="280.1" y1="873.81" x2="284.9" y2="873.81" stroke="#35a047" stroke-width="0.9" opacity="0.75"/>
<path d="M108.9,868.99 L121.3,869.22 L133.7,868.99 L146.1,869.22 L158.5,861.6 L170.9,866.19 L183.3,868.6 L195.7,867.65 L208.1,864.62 L220.5,866.64 L232.9,868.6 L245.3,873.02 L257.7,869.22 L270.1,874.2 L282.5,871.57" stroke="#35a047" stroke-width="1.8" fill="none" stroke-linejoin="round"/>
<circle cx="108.9" cy="868.99" r="2.4" fill="#35a047"/><circle cx="121.3" cy="869.22" r="2.4" fill="#35a047"/><circle cx="133.7" cy="868.99" r="2.4" fill="#35a047"/><circle cx="146.1" cy="869.22" r="2.4" fill="#35a047"/><circle cx="158.5" cy="861.6" r="2.4" fill="#35a047"/><circle cx="170.9" cy="866.19" r="2.4" fill="#35a047"/><circle cx="183.3" cy="868.6" r="2.4" fill="#35a047"/><circle cx="195.7" cy="867.65" r="2.4" fill="#35a047"/><circle cx="208.1" cy="864.62" r="2.4" fill="#35a047"/><circle cx="220.5" cy="866.64" r="2.4" fill="#35a047"/><circle cx="232.9" cy="868.6" r="2.4" fill="#35a047"/><circle cx="245.3" cy="873.02" r="2.4" fill="#35a047"/><circle cx="257.7" cy="869.22" r="2.4" fill="#35a047"/><circle cx="270.1" cy="874.2" r="2.4" fill="#35a047"/><circle cx="282.5" cy="871.57" r="2.4" fill="#35a047"/>
<line x1="108.9" y1="870.78" x2="108.9" y2="875.26" stroke="#4f9ff0" stroke-width="0.9" opacity="0.75"/><line x1="106.5" y1="870.78" x2="111.3" y2="870.78" stroke="#4f9ff0" stroke-width="0.9" opacity="0.75"/><line x1="106.5" y1="875.26" x2="111.3" y2="875.26" stroke="#4f9ff0" stroke-width="0.9" opacity="0.75"/><line x1="121.3" y1="871.34" x2="121.3" y2="875.82" stroke="#4f9ff0" stroke-width="0.9" opacity="0.75"/><line x1="118.9" y1="871.34" x2="123.7" y2="871.34" stroke="#4f9ff0" stroke-width="0.9" opacity="0.75"/><line x1="118.9" y1="875.82" x2="123.7" y2="875.82" stroke="#4f9ff0" stroke-width="0.9" opacity="0.75"/><line x1="133.7" y1="868.32" x2="133.7" y2="872.8" stroke="#4f9ff0" stroke-width="0.9" opacity="0.75"/><line x1="131.3" y1="868.32" x2="136.1" y2="868.32" stroke="#4f9ff0" stroke-width="0.9" opacity="0.75"/><line x1="131.3" y1="872.8" x2="136.1" y2="872.8" stroke="#4f9ff0" stroke-width="0.9" opacity="0.75"/><line x1="146.1" y1="868.32" x2="146.1" y2="872.8" stroke="#4f9ff0" stroke-width="0.9" opacity="0.75"/><line x1="143.7" y1="868.32" x2="148.5" y2="868.32" stroke="#4f9ff0" stroke-width="0.9" opacity="0.75"/><line x1="143.7" y1="872.8" x2="148.5" y2="872.8" stroke="#4f9ff0" stroke-width="0.9" opacity="0.75"/><line x1="158.5" y1="865.24" x2="158.5" y2="871.96" stroke="#4f9ff0" stroke-width="0.9" opacity="0.75"/><line x1="156.1" y1="865.24" x2="160.9" y2="865.24" stroke="#4f9ff0" stroke-width="0.9" opacity="0.75"/><line x1="156.1" y1="871.96" x2="160.9" y2="871.96" stroke="#4f9ff0" stroke-width="0.9" opacity="0.75"/><line x1="170.9" y1="868.21" x2="170.9" y2="874.93" stroke="#4f9ff0" stroke-width="0.9" opacity="0.75"/><line x1="168.5" y1="868.21" x2="173.3" y2="868.21" stroke="#4f9ff0" stroke-width="0.9" opacity="0.75"/><line x1="168.5" y1="874.93" x2="173.3" y2="874.93" stroke="#4f9ff0" stroke-width="0.9" opacity="0.75"/><line x1="183.3" y1="871.96" x2="183.3" y2="876.44" stroke="#4f9ff0" stroke-width="0.9" opacity="0.75"/><line x1="180.9" y1="871.96" x2="185.7" y2="871.96" stroke="#4f9ff0" stroke-width="0.9" opacity="0.75"/><line x1="180.9" y1="876.44" x2="185.7" y2="876.44" stroke="#4f9ff0" stroke-width="0.9" opacity="0.75"/><line x1="195.7" y1="870.78" x2="195.7" y2="875.26" stroke="#4f9ff0" stroke-width="0.9" opacity="0.75"/><line x1="193.3" y1="870.78" x2="198.1" y2="870.78" stroke="#4f9ff0" stroke-width="0.9" opacity="0.75"/><line x1="193.3" y1="875.26" x2="198.1" y2="875.26" stroke="#4f9ff0" stroke-width="0.9" opacity="0.75"/><line x1="208.1" y1="868.32" x2="208.1" y2="872.8" stroke="#4f9ff0" stroke-width="0.9" opacity="0.75"/><line x1="205.7" y1="868.32" x2="210.5" y2="868.32" stroke="#4f9ff0" stroke-width="0.9" opacity="0.75"/><line x1="205.7" y1="872.8" x2="210.5" y2="872.8" stroke="#4f9ff0" stroke-width="0.9" opacity="0.75"/><line x1="220.5" y1="871.34" x2="220.5" y2="875.82" stroke="#4f9ff0" stroke-width="0.9" opacity="0.75"/><line x1="218.1" y1="871.34" x2="222.9" y2="871.34" stroke="#4f9ff0" stroke-width="0.9" opacity="0.75"/><line x1="218.1" y1="875.82" x2="222.9" y2="875.82" stroke="#4f9ff0" stroke-width="0.9" opacity="0.75"/><line x1="232.9" y1="873.36" x2="232.9" y2="877.84" stroke="#4f9ff0" stroke-width="0.9" opacity="0.75"/><line x1="230.5" y1="873.36" x2="235.3" y2="873.36" stroke="#4f9ff0" stroke-width="0.9" opacity="0.75"/><line x1="230.5" y1="877.84" x2="235.3" y2="877.84" stroke="#4f9ff0" stroke-width="0.9" opacity="0.75"/><line x1="245.3" y1="859.47" x2="245.3" y2="872.91" stroke="#4f9ff0" stroke-width="0.9" opacity="0.75"/><line x1="242.9" y1="859.47" x2="247.7" y2="859.47" stroke="#4f9ff0" stroke-width="0.9" opacity="0.75"/><line x1="242.9" y1="872.91" x2="247.7" y2="872.91" stroke="#4f9ff0" stroke-width="0.9" opacity="0.75"/><line x1="257.7" y1="858.52" x2="257.7" y2="867.48" stroke="#4f9ff0" stroke-width="0.9" opacity="0.75"/><line x1="255.3" y1="858.52" x2="260.1" y2="858.52" stroke="#4f9ff0" stroke-width="0.9" opacity="0.75"/><line x1="255.3" y1="867.48" x2="260.1" y2="867.48" stroke="#4f9ff0" stroke-width="0.9" opacity="0.75"/><line x1="270.1" y1="855.33" x2="270.1" y2="859.81" stroke="#4f9ff0" stroke-width="0.9" opacity="0.75"/><line x1="267.7" y1="855.33" x2="272.5" y2="855.33" stroke="#4f9ff0" stroke-width="0.9" opacity="0.75"/><line x1="267.7" y1="859.81" x2="272.5" y2="859.81" stroke="#4f9ff0" stroke-width="0.9" opacity="0.75"/><line x1="282.5" y1="856.45" x2="282.5" y2="858.69" stroke="#4f9ff0" stroke-width="0.9" opacity="0.75"/><line x1="280.1" y1="856.45" x2="284.9" y2="856.45" stroke="#4f9ff0" stroke-width="0.9" opacity="0.75"/><line x1="280.1" y1="858.69" x2="284.9" y2="858.69" stroke="#4f9ff0" stroke-width="0.9" opacity="0.75"/>
<path d="M108.9,873.02 L121.3,873.58 L133.7,870.56 L146.1,870.56 L158.5,868.6 L170.9,871.57 L183.3,874.2 L195.7,873.02 L208.1,870.56 L220.5,873.58 L232.9,875.6 L245.3,866.19 L257.7,863 L270.1,857.57 L282.5,857.57" stroke="#4f9ff0" stroke-width="1.8" fill="none" stroke-linejoin="round"/>
<circle cx="108.9" cy="873.02" r="2.4" fill="#4f9ff0"/><circle cx="121.3" cy="873.58" r="2.4" fill="#4f9ff0"/><circle cx="133.7" cy="870.56" r="2.4" fill="#4f9ff0"/><circle cx="146.1" cy="870.56" r="2.4" fill="#4f9ff0"/><circle cx="158.5" cy="868.6" r="2.4" fill="#4f9ff0"/><circle cx="170.9" cy="871.57" r="2.4" fill="#4f9ff0"/><circle cx="183.3" cy="874.2" r="2.4" fill="#4f9ff0"/><circle cx="195.7" cy="873.02" r="2.4" fill="#4f9ff0"/><circle cx="208.1" cy="870.56" r="2.4" fill="#4f9ff0"/><circle cx="220.5" cy="873.58" r="2.4" fill="#4f9ff0"/><circle cx="232.9" cy="875.6" r="2.4" fill="#4f9ff0"/><circle cx="245.3" cy="866.19" r="2.4" fill="#4f9ff0"/><circle cx="257.7" cy="863" r="2.4" fill="#4f9ff0"/><circle cx="270.1" cy="857.57" r="2.4" fill="#4f9ff0"/><circle cx="282.5" cy="857.57" r="2.4" fill="#4f9ff0"/>
<line x1="117.6" y1="831.6" x2="132.4" y2="831.6" stroke="#4f9ff0" stroke-width="1.6"/>
<circle cx="125" cy="831.6" r="2.1" fill="#4f9ff0"/>
<line x1="172" y1="831.6" x2="187" y2="831.6" stroke="#d2493c" stroke-width="1.6"/>
<circle cx="179.5" cy="831.6" r="2.1" fill="#d2493c"/>
<line x1="232" y1="831.6" x2="247" y2="831.6" stroke="#35a047" stroke-width="1.6"/>
<circle cx="239.4" cy="831.6" r="2.1" fill="#35a047"/>
<text x="141" y="835.6" font-size="11.3" font-weight="normal" text-anchor="start" fill="#222">R.T.</text>
<text x="195" y="835.6" font-size="11.3" font-weight="normal" text-anchor="start" fill="#222">37°C</text>
<text x="255" y="835.6" font-size="11.3" font-weight="normal" text-anchor="start" fill="#222">4°C</text>
<text x="195" y="913.4" font-size="19.5" font-weight="normal" text-anchor="middle" fill="#ec1a22">RPMI-1640</text>
<g transform="translate(65.1 923.2) rotate(-90)"><text x="0" y="0" font-size="11.8" font-weight="bold" text-anchor="start" fill="#111">Particle size</text><path d="M73.5,-9.6 Q68.3,-4.5 73.5,0.6" stroke="#111" stroke-width="1.05" fill="none"/><text x="75.2" y="0" font-size="11.8" font-weight="bold" text-anchor="start" fill="#111">nm</text><path d="M93.5,-9.6 Q97.9,-4.5 93.5,0.6" stroke="#111" stroke-width="1.05" fill="none"/></g>
<text x="196.5" y="966.2" font-size="11.7" font-weight="bold" text-anchor="middle" fill="#111">Time (Days)</text>
<text x="364.6" y="683" font-size="17" font-weight="bold" text-anchor="start" fill="#000">F</text>
<line x1="362" y1="720" x2="362" y2="853.2" stroke="#111" stroke-width="1.5"/>
<line x1="361.25" y1="720.6" x2="494.6" y2="720.6" stroke="#111" stroke-width="1.3"/>
<line x1="494" y1="720.6" x2="494" y2="852.4" stroke="#111" stroke-width="1.3"/>
<line x1="361.25" y1="852.4" x2="494.6" y2="852.4" stroke="#111" stroke-width="1.5"/>
<line x1="356" y1="852.4" x2="362" y2="852.4" stroke="#111" stroke-width="1.3"/>
<text x="355" y="856.4" font-size="11.2" font-weight="bold" text-anchor="end" fill="#111">0</text>
<line x1="356" y1="830.43" x2="362" y2="830.43" stroke="#111" stroke-width="1.3"/>
<text x="355" y="834.43" font-size="11.2" font-weight="bold" text-anchor="end" fill="#111">20</text>
<line x1="356" y1="808.47" x2="362" y2="808.47" stroke="#111" stroke-width="1.3"/>
<text x="355" y="812.47" font-size="11.2" font-weight="bold" text-anchor="end" fill="#111">40</text>
<line x1="356" y1="786.5" x2="362" y2="786.5" stroke="#111" stroke-width="1.3"/>
<text x="355" y="790.5" font-size="11.2" font-weight="bold" text-anchor="end" fill="#111">60</text>
<line x1="356" y1="764.53" x2="362" y2="764.53" stroke="#111" stroke-width="1.3"/>
<text x="355" y="768.53" font-size="11.2" font-weight="bold" text-anchor="end" fill="#111">80</text>
<line x1="356" y1="742.57" x2="362" y2="742.57" stroke="#111" stroke-width="1.3"/>
<text x="355" y="746.57" font-size="11.2" font-weight="bold" text-anchor="end" fill="#111">100</text>
<line x1="356" y1="720.6" x2="362" y2="720.6" stroke="#111" stroke-width="1.3"/>
<text x="355" y="724.6" font-size="11.2" font-weight="bold" text-anchor="end" fill="#111">120</text>
<line x1="362" y1="852.4" x2="362" y2="856.9" stroke="#111" stroke-width="1.3"/>
<text x="365.2" y="868.4" font-size="11.2" font-weight="bold" text-anchor="end" fill="#111" transform="rotate(-45 365.2 868.4)">0</text>
<line x1="388.4" y1="852.4" x2="388.4" y2="856.9" stroke="#111" stroke-width="1.3"/>
<text x="391.6" y="868.4" font-size="11.2" font-weight="bold" text-anchor="end" fill="#111" transform="rotate(-45 391.6 868.4)">24</text>
<line x1="414.8" y1="852.4" x2="414.8" y2="856.9" stroke="#111" stroke-width="1.3"/>
<text x="418" y="868.4" font-size="11.2" font-weight="bold" text-anchor="end" fill="#111" transform="rotate(-45 418 868.4)">48</text>
<line x1="441.2" y1="852.4" x2="441.2" y2="856.9" stroke="#111" stroke-width="1.3"/>
<text x="444.4" y="868.4" font-size="11.2" font-weight="bold" text-anchor="end" fill="#111" transform="rotate(-45 444.4 868.4)">72</text>
<line x1="467.6" y1="852.4" x2="467.6" y2="856.9" stroke="#111" stroke-width="1.3"/>
<text x="470.8" y="868.4" font-size="11.2" font-weight="bold" text-anchor="end" fill="#111" transform="rotate(-45 470.8 868.4)">96</text>
<line x1="494" y1="852.4" x2="494" y2="856.9" stroke="#111" stroke-width="1.3"/>
<text x="497.2" y="868.4" font-size="11.2" font-weight="bold" text-anchor="end" fill="#111" transform="rotate(-45 497.2 868.4)">120</text>
<line x1="388.4" y1="840.1" x2="388.4" y2="841.86" stroke="#34bcb2" stroke-width="1"/><line x1="385.8" y1="840.1" x2="391" y2="840.1" stroke="#34bcb2" stroke-width="1"/><line x1="385.8" y1="841.86" x2="391" y2="841.86" stroke="#34bcb2" stroke-width="1"/><line x1="414.8" y1="827.14" x2="414.8" y2="828.9" stroke="#34bcb2" stroke-width="1"/><line x1="412.2" y1="827.14" x2="417.4" y2="827.14" stroke="#34bcb2" stroke-width="1"/><line x1="412.2" y1="828.9" x2="417.4" y2="828.9" stroke="#34bcb2" stroke-width="1"/><line x1="441.2" y1="810.77" x2="441.2" y2="812.53" stroke="#34bcb2" stroke-width="1"/><line x1="438.6" y1="810.77" x2="443.8" y2="810.77" stroke="#34bcb2" stroke-width="1"/><line x1="438.6" y1="812.53" x2="443.8" y2="812.53" stroke="#34bcb2" stroke-width="1"/><line x1="467.6" y1="790.89" x2="467.6" y2="795.29" stroke="#34bcb2" stroke-width="1"/><line x1="465" y1="790.89" x2="470.2" y2="790.89" stroke="#34bcb2" stroke-width="1"/><line x1="465" y1="795.29" x2="470.2" y2="795.29" stroke="#34bcb2" stroke-width="1"/>
<path d="M362,852.4 L368.6,850.2 L388.4,840.98 L414.8,828.02 L441.2,811.65 L467.6,793.09" stroke="#34bcb2" stroke-width="1.6" fill="none" stroke-linejoin="round"/>
<rect x="359.4" y="849.8" width="5.2" height="5.2" fill="#34bcb2"/><rect x="366" y="847.6" width="5.2" height="5.2" fill="#34bcb2"/><rect x="385.8" y="838.38" width="5.2" height="5.2" fill="#34bcb2"/><rect x="412.2" y="825.42" width="5.2" height="5.2" fill="#34bcb2"/><rect x="438.6" y="809.05" width="5.2" height="5.2" fill="#34bcb2"/><rect x="465" y="790.49" width="5.2" height="5.2" fill="#34bcb2"/>
<line x1="368.6" y1="849.65" x2="368.6" y2="850.75" stroke="#d65a48" stroke-width="1"/><line x1="366" y1="849.65" x2="371.2" y2="849.65" stroke="#d65a48" stroke-width="1"/><line x1="366" y1="850.75" x2="371.2" y2="850.75" stroke="#d65a48" stroke-width="1"/><line x1="388.4" y1="842.41" x2="388.4" y2="846.36" stroke="#d65a48" stroke-width="1"/><line x1="385.8" y1="842.41" x2="391" y2="842.41" stroke="#d65a48" stroke-width="1"/><line x1="385.8" y1="846.36" x2="391" y2="846.36" stroke="#d65a48" stroke-width="1"/><line x1="414.8" y1="840.54" x2="414.8" y2="847.57" stroke="#d65a48" stroke-width="1"/><line x1="412.2" y1="840.54" x2="417.4" y2="840.54" stroke="#d65a48" stroke-width="1"/><line x1="412.2" y1="847.57" x2="417.4" y2="847.57" stroke="#d65a48" stroke-width="1"/><line x1="441.2" y1="834.39" x2="441.2" y2="843.61" stroke="#d65a48" stroke-width="1"/><line x1="438.6" y1="834.39" x2="443.8" y2="834.39" stroke="#d65a48" stroke-width="1"/><line x1="438.6" y1="843.61" x2="443.8" y2="843.61" stroke="#d65a48" stroke-width="1"/><line x1="467.6" y1="828.57" x2="467.6" y2="839.55" stroke="#d65a48" stroke-width="1"/><line x1="465" y1="828.57" x2="470.2" y2="828.57" stroke="#d65a48" stroke-width="1"/><line x1="465" y1="839.55" x2="470.2" y2="839.55" stroke="#d65a48" stroke-width="1"/>
<path d="M362,852.4 L368.6,850.2 L388.4,844.38 L414.8,844.05 L441.2,839 L467.6,834.06" stroke="#d65a48" stroke-width="1.6" fill="none" stroke-linejoin="round"/>
<circle cx="362" cy="852.4" r="2.9" fill="#d65a48"/><circle cx="368.6" cy="850.2" r="2.9" fill="#d65a48"/><circle cx="388.4" cy="844.38" r="2.9" fill="#d65a48"/><circle cx="414.8" cy="844.05" r="2.9" fill="#d65a48"/><circle cx="441.2" cy="839" r="2.9" fill="#d65a48"/><circle cx="467.6" cy="834.06" r="2.9" fill="#d65a48"/>
<text x="330.7" y="785.9" font-size="10.8" font-weight="bold" text-anchor="middle" fill="#111" transform="rotate(-90 330.7 785.9)">Cumulative release(%)</text>
<text x="428.6" y="899" font-size="10.8" font-weight="bold" text-anchor="middle" fill="#111">Time (h)</text>
<line x1="549.6" y1="719.4" x2="549.6" y2="852.8" stroke="#111" stroke-width="1.5"/>
<line x1="548.85" y1="720" x2="682.2" y2="720" stroke="#111" stroke-width="1.3"/>
<line x1="681.6" y1="720" x2="681.6" y2="852" stroke="#111" stroke-width="1.3"/>
<line x1="548.85" y1="852" x2="682.2" y2="852" stroke="#111" stroke-width="1.5"/>
<line x1="543.6" y1="852" x2="549.6" y2="852" stroke="#111" stroke-width="1.3"/>
<text x="542.6" y="856" font-size="11.2" font-weight="bold" text-anchor="end" fill="#111">0</text>
<line x1="543.6" y1="808" x2="549.6" y2="808" stroke="#111" stroke-width="1.3"/>
<text x="542.6" y="812" font-size="11.2" font-weight="bold" text-anchor="end" fill="#111">5</text>
<line x1="543.6" y1="764" x2="549.6" y2="764" stroke="#111" stroke-width="1.3"/>
<text x="542.6" y="768" font-size="11.2" font-weight="bold" text-anchor="end" fill="#111">10</text>
<line x1="543.6" y1="720" x2="549.6" y2="720" stroke="#111" stroke-width="1.3"/>
<text x="542.6" y="724" font-size="11.2" font-weight="bold" text-anchor="end" fill="#111">15</text>
<line x1="549.6" y1="852" x2="549.6" y2="856.5" stroke="#111" stroke-width="1.3"/>
<text x="552.8" y="868" font-size="11.2" font-weight="bold" text-anchor="end" fill="#111" transform="rotate(-45 552.8 868)">0</text>
<line x1="576" y1="852" x2="576" y2="856.5" stroke="#111" stroke-width="1.3"/>
<text x="579.2" y="868" font-size="11.2" font-weight="bold" text-anchor="end" fill="#111" transform="rotate(-45 579.2 868)">6</text>
<line x1="602.4" y1="852" x2="602.4" y2="856.5" stroke="#111" stroke-width="1.3"/>
<text x="605.6" y="868" font-size="11.2" font-weight="bold" text-anchor="end" fill="#111" transform="rotate(-45 605.6 868)">12</text>
<line x1="628.8" y1="852" x2="628.8" y2="856.5" stroke="#111" stroke-width="1.3"/>
<text x="632" y="868" font-size="11.2" font-weight="bold" text-anchor="end" fill="#111" transform="rotate(-45 632 868)">18</text>
<line x1="655.2" y1="852" x2="655.2" y2="856.5" stroke="#111" stroke-width="1.3"/>
<text x="658.4" y="868" font-size="11.2" font-weight="bold" text-anchor="end" fill="#111" transform="rotate(-45 658.4 868)">24</text>
<line x1="681.6" y1="852" x2="681.6" y2="856.5" stroke="#111" stroke-width="1.3"/>
<text x="684.8" y="868" font-size="11.2" font-weight="bold" text-anchor="end" fill="#111" transform="rotate(-45 684.8 868)">30</text>
<line x1="576" y1="826.48" x2="576" y2="835.28" stroke="#7fd0c8" stroke-width="1"/><line x1="573.4" y1="826.48" x2="578.6" y2="826.48" stroke="#7fd0c8" stroke-width="1"/><line x1="573.4" y1="835.28" x2="578.6" y2="835.28" stroke="#7fd0c8" stroke-width="1"/><line x1="655.2" y1="757.4" x2="655.2" y2="769.72" stroke="#7fd0c8" stroke-width="1"/><line x1="652.6" y1="757.4" x2="657.8" y2="757.4" stroke="#7fd0c8" stroke-width="1"/><line x1="652.6" y1="769.72" x2="657.8" y2="769.72" stroke="#7fd0c8" stroke-width="1"/>
<path d="M549.6,852 L576,830.88 L655.2,763.56" stroke="#34bcb2" stroke-width="1.6" fill="none" stroke-linejoin="round"/>
<rect x="547" y="849.4" width="5.2" height="5.2" fill="#34bcb2"/><rect x="573.4" y="828.28" width="5.2" height="5.2" fill="#34bcb2"/><rect x="652.6" y="760.96" width="5.2" height="5.2" fill="#34bcb2"/>
<line x1="576" y1="817.68" x2="576" y2="847.6" stroke="#e8a49a" stroke-width="1"/><line x1="573.4" y1="817.68" x2="578.6" y2="817.68" stroke="#e8a49a" stroke-width="1"/><line x1="573.4" y1="847.6" x2="578.6" y2="847.6" stroke="#e8a49a" stroke-width="1"/><line x1="655.2" y1="769.9" x2="655.2" y2="812.14" stroke="#e8a49a" stroke-width="1"/><line x1="652.6" y1="769.9" x2="657.8" y2="769.9" stroke="#e8a49a" stroke-width="1"/><line x1="652.6" y1="812.14" x2="657.8" y2="812.14" stroke="#e8a49a" stroke-width="1"/>
<path d="M549.6,852 L576,832.64 L655.2,791.02" stroke="#d65a48" stroke-width="1.6" fill="none" stroke-linejoin="round"/>
<circle cx="549.6" cy="852" r="2.9" fill="#d65a48"/><circle cx="576" cy="832.64" r="2.9" fill="#d65a48"/><circle cx="655.2" cy="791.02" r="2.9" fill="#d65a48"/>
<text x="524.4" y="785.4" font-size="10.8" font-weight="bold" text-anchor="middle" fill="#111" transform="rotate(-90 524.4 785.4)">Cumulative release(%)</text>
<text x="615.2" y="894" font-size="10.8" font-weight="bold" text-anchor="middle" fill="#111">Time (h)</text>
<line x1="422.4" y1="730.6" x2="436" y2="730.6" stroke="#34bcb2" stroke-width="1.6"/>
<rect x="426.4" y="728" width="5.2" height="5.2" fill="#34bcb2"/>
<line x1="422.4" y1="748" x2="436" y2="748" stroke="#d65a48" stroke-width="1.6"/>
<circle cx="429" cy="748" r="2.9" fill="#d65a48"/>
<text x="444" y="735" font-size="10.8" font-weight="normal" text-anchor="start" fill="#222">lomi</text>
<text x="444" y="752.2" font-size="10.8" font-weight="normal" text-anchor="start" fill="#222">C12</text>
<path d="M399.8,811.7 L340.8,811.7 Q335.3,811.7 335.3,817.2 L335.3,878.6 Q335.3,884.1 340.8,884.1 L399.8,884.1 Z" stroke="#f41010" stroke-width="2.5" stroke-dasharray="5.6 8 0 8.2 0 7.4" stroke-dashoffset="13.3" stroke-linecap="round" fill="none"/>
<path d="M399.8,811.7 L511.6,714" stroke="#f41010" stroke-width="2.5" stroke-dasharray="5.6 8.2 0 7.8 0 7.7" stroke-dashoffset="-1.3" stroke-linecap="round" fill="none"/>
<path d="M399.8,884.1 L502.6,892" stroke="#f41010" stroke-width="2.5" stroke-dasharray="5.6 8.1 0 7.8 0 8.1" stroke-linecap="round" fill="none"/>
</svg></body></html>
